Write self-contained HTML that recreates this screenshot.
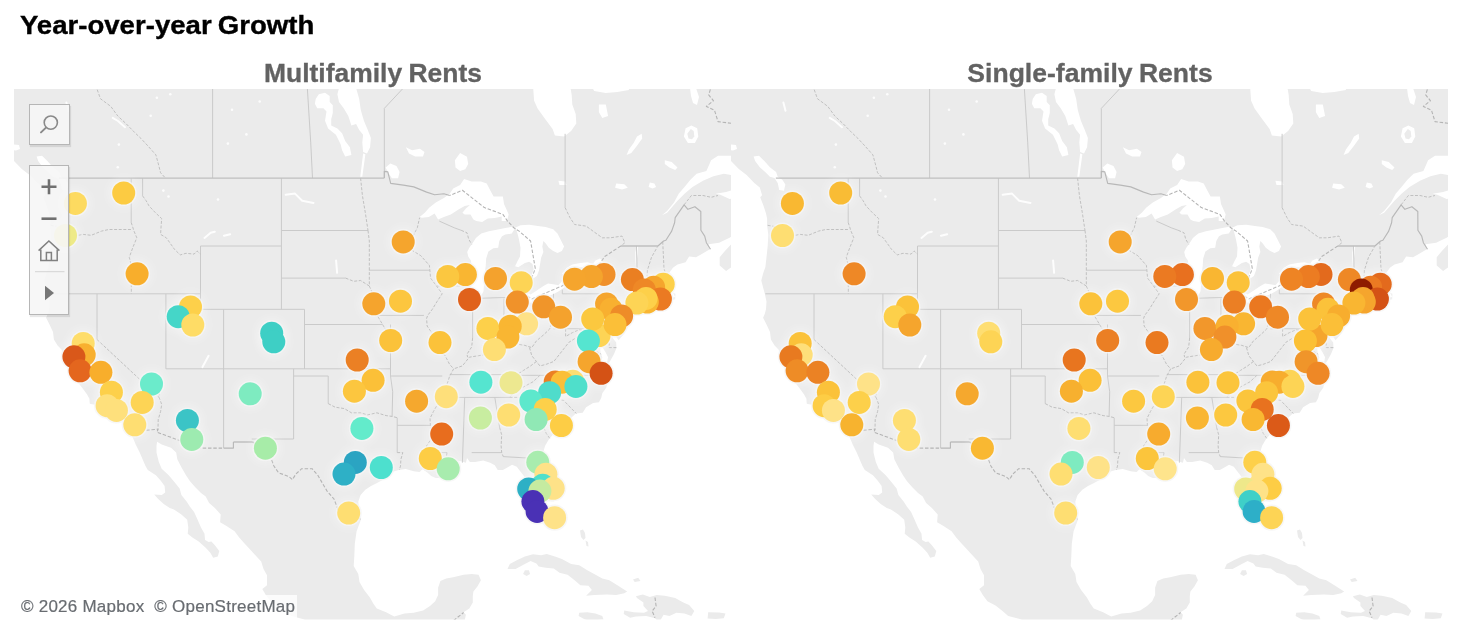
<!DOCTYPE html>
<html lang="en"><head><meta charset="utf-8"><title>Year-over-year Growth</title>
<style>
html,body{margin:0;padding:0;background:#fff;overflow:hidden}
body{width:1459px;height:643px;position:relative;overflow:hidden;font-family:"Liberation Sans",sans-serif}
.title{margin:0;position:absolute;left:20.3px;top:9.6px;font-size:25px;line-height:30px;font-weight:bold;color:#000;white-space:nowrap;word-spacing:-1.5px;-webkit-text-stroke:.35px #000;transform:scaleX(1.104);transform-origin:1px 50%}
.sub{margin:0;position:absolute;top:58.2px;width:400px;text-align:center;font-size:25px;line-height:30px;font-weight:bold;color:#626262;white-space:nowrap;word-spacing:-1px;-webkit-text-stroke:.3px #626262;transform:scaleX(1.058);transform-origin:50% 50%}
#maps{position:absolute;left:0;top:0}
.ctl{position:absolute;box-sizing:border-box;border:1px solid #b6b6b6;background:rgba(246,246,246,.9);box-shadow:1px 2px 1px rgba(0,0,0,.09)}
.attr{position:absolute;left:17px;top:594.7px;width:280px;height:23px;background:rgba(255,255,255,.8);font-size:17px;line-height:22px;color:#686c71;white-space:nowrap;letter-spacing:.24px;-webkit-text-stroke:.2px #686c71}
.attr span{position:absolute;left:4px;top:1px}
</style></head>
<body>
<h1 class="title">Year-over-year Growth</h1>
<h2 class="sub" style="left:173px">Multifamily Rents</h2>
<h2 class="sub" style="left:889.5px;transform:scaleX(1.062)">Single-family Rents</h2>

<svg id="maps" width="1459" height="643" viewBox="0 0 1459 643" role="img" aria-label="Maps of year-over-year rent growth by metro area">
<defs>
<clipPath id="cl"><rect x="14" y="89" width="717" height="530.5"/></clipPath>
<clipPath id="cr"><rect x="731" y="89" width="717" height="530.5"/></clipPath>
<filter id="glow" x="-5%" y="-5%" width="110%" height="110%"><feGaussianBlur stdDeviation="2.5"/></filter>
</defs>
<g clip-path="url(#cl)">
<g transform="translate(0 0)">
<path fill="#ebebeb" d="M-18.7 44.7 L0.0 161.0 L14.0 161.0 L21.8 168.9 L29.6 175.1 L37.3 182.9 L42.8 187.5 L45.1 195.3 L43.2 197.3 L46.6 205.9 L49.0 213.5 L50.1 218.6 L50.1 225.3 L51.3 234.4 L50.7 246.0 L49.5 257.3 L48.4 267.0 L46.1 273.4 L44.3 280.5 L46.1 287.6 L47.8 293.8 L49.5 301.6 L49.0 309.3 L47.8 313.8 L46.1 317.8 L49.5 324.5 L53.0 332.0 L53.9 339.5 L57.6 345.4 L61.7 349.8 L62.8 354.2 L68.0 357.2 L68.0 361.5 L70.4 367.4 L73.8 369.5 L76.1 371.7 L74.4 374.6 L75.0 378.9 L79.6 384.6 L83.1 388.9 L87.1 394.6 L89.4 398.8 L89.8 403.7 L95.8 405.1 L101.6 405.8 L105.6 407.9 L109.1 410.7 L114.3 411.4 L115.5 414.9 L118.9 415.6 L122.4 417.7 L127.0 422.5 L128.8 428.1 L130.3 431.5 L133.4 439.0 L135.7 444.5 L139.7 452.6 L142.6 459.3 L145.5 466.0 L147.8 470.0 L155.9 475.3 L160.6 480.6 L164.6 485.9 L165.2 492.4 L161.7 495.1 L154.2 494.4 L158.2 499.0 L164.0 504.2 L169.8 508.1 L173.9 509.4 L181.4 514.5 L187.2 519.7 L188.3 527.4 L187.7 533.8 L192.4 537.6 L198.7 541.4 L205.7 547.7 L210.3 552.8 L213.2 557.8 L217.8 556.5 L219.3 550.9 L214.9 545.2 L211.4 541.4 L208.6 542.0 L205.1 540.1 L204.5 533.8 L201.0 527.4 L197.6 519.7 L194.1 512.0 L190.0 506.8 L186.6 501.6 L181.4 495.1 L179.6 488.5 L174.4 481.9 L168.7 475.3 L161.7 468.7 L158.8 462.0 L156.5 452.6 L156.5 445.8 L157.1 441.7 L161.7 444.5 L171.0 447.8 L176.2 452.6 L177.3 459.3 L181.4 467.3 L186.0 475.3 L190.0 481.3 L195.3 487.2 L201.0 493.1 L205.7 496.4 L209.1 502.9 L214.9 508.1 L220.7 514.5 L220.1 522.3 L226.5 526.1 L234.6 531.2 L239.2 537.6 L245.0 543.9 L250.8 550.3 L254.2 554.0 L261.2 561.6 L263.5 569.1 L267.0 575.3 L267.0 581.5 L267.0 585.2 L262.3 588.9 L265.8 595.1 L270.4 601.2 L278.5 605.5 L285.5 611.0 L291.2 615.9 L302.8 618.9 L310.9 623.2 L322.5 630.4 L339.8 636.5 L386.1 642.5 L456.6 642.5 L463.6 631.6 L464.1 623.2 L465.9 614.7 L463.6 612.2 L469.3 608.6 L472.8 602.4 L472.8 596.3 L473.4 591.4 L477.4 586.4 L480.9 580.3 L478.6 574.7 L471.7 574.0 L463.6 574.7 L453.2 577.2 L446.2 578.4 L440.4 580.9 L438.1 587.7 L438.1 595.1 L435.2 601.2 L430.0 606.1 L423.1 610.4 L413.8 612.8 L404.6 613.4 L394.2 616.5 L386.1 612.2 L376.8 608.6 L373.4 603.7 L369.9 597.5 L364.1 590.1 L359.5 582.1 L358.3 574.0 L353.7 565.9 L354.3 556.5 L354.8 543.9 L356.6 531.2 L361.2 519.1 L358.9 510.7 L358.3 501.6 L360.6 495.1 L365.3 489.8 L371.0 485.9 L378.0 482.6 L383.8 479.3 L388.4 475.3 L391.9 472.0 L398.8 470.0 L405.7 469.1 L413.8 471.3 L419.6 472.0 L422.5 469.3 L427.7 472.7 L431.2 476.0 L435.8 478.0 L441.6 478.0 L445.1 475.3 L448.5 477.3 L452.0 480.0 L454.9 477.3 L450.8 473.3 L449.7 468.7 L448.5 464.7 L452.0 462.0 L456.6 460.9 L461.2 461.3 L465.9 462.7 L467.0 458.0 L469.9 462.0 L475.1 462.0 L483.2 460.6 L490.2 462.7 L494.8 465.3 L497.7 470.0 L502.9 470.0 L508.7 466.7 L512.1 464.7 L516.8 466.7 L520.2 471.3 L524.3 476.6 L528.3 481.9 L528.3 488.5 L527.2 493.8 L528.9 499.0 L532.4 505.5 L535.8 512.0 L538.7 517.1 L543.4 521.0 L546.8 527.4 L549.1 529.3 L554.3 528.0 L556.7 522.3 L556.1 515.8 L554.3 508.1 L553.8 501.6 L553.8 493.8 L553.2 486.5 L549.7 480.6 L546.8 474.0 L544.5 467.3 L543.4 460.6 L542.8 453.9 L545.1 445.8 L549.1 439.0 L552.6 434.9 L556.1 431.5 L561.3 428.1 L567.1 423.9 L570.5 418.4 L575.7 413.5 L582.7 412.8 L586.1 407.2 L593.1 403.0 L598.9 402.3 L601.2 398.1 L602.3 393.2 L606.4 387.5 L607.5 380.3 L605.8 370.3 L601.8 368.8 L601.2 364.5 L602.3 357.2 L600.6 352.8 L600.0 345.4 L600.6 339.5 L604.7 333.5 L603.5 339.5 L602.3 346.9 L605.8 352.8 L608.1 357.2 L606.4 365.9 L609.9 361.5 L613.9 354.2 L616.4 348.3 L616.2 342.4 L612.7 338.0 L611.0 332.0 L615.1 335.0 L618.5 340.2 L624.3 333.5 L627.8 327.5 L628.9 319.9 L626.6 316.9 L628.4 313.8 L631.8 310.8 L634.7 308.5 L640.5 306.2 L646.3 305.0 L652.1 304.3 L656.7 303.9 L659.0 301.6 L659.6 298.5 L661.9 301.6 L664.8 300.8 L667.7 298.5 L668.8 300.8 L675.2 299.2 L675.4 293.8 L672.9 292.7 L675.2 296.9 L670.0 297.7 L667.1 293.8 L663.6 288.3 L667.7 284.4 L665.9 279.7 L668.8 273.4 L672.9 267.8 L677.5 264.6 L685.6 262.2 L689.1 256.5 L696.0 257.3 L701.8 254.1 L709.9 249.2 L708.7 244.3 L719.1 242.7 L729.6 237.8 L736.5 232.8 L740.0 234.4 L737.7 241.0 L731.9 243.5 L724.9 250.9 L719.7 257.3 L719.7 265.4 L726.1 271.0 L731.9 267.0 L738.8 260.6 L746.9 254.1 L756.2 250.9 L767.7 229.5 L746.9 229.5 L738.8 226.1 L735.3 217.7 L731.9 211.0 L734.2 204.1 L736.5 198.1 L729.6 199.0 L720.3 194.7 L715.7 193.8 L726.1 192.1 L737.7 188.6 L741.1 180.7 L734.2 175.4 L723.8 173.7 L713.4 176.3 L703.0 180.7 L692.5 186.9 L684.5 193.8 L677.5 200.7 L671.7 207.6 L667.1 212.7 L661.9 215.2 L667.1 211.0 L674.0 202.4 L678.7 193.8 L684.5 186.9 L690.2 179.9 L696.6 173.7 L706.4 171.0 L711.1 160.3 L718.0 155.8 L733.0 155.8 L750.4 154.9 L750.4 44.7 L582.7 44.7 L586.1 65.2 L565.3 73.2 L570.0 85.1 L571.7 94.9 L572.3 104.5 L575.7 114.1 L576.3 123.5 L571.1 131.0 L564.2 136.6 L554.9 135.6 L552.6 129.1 L545.7 119.8 L537.6 108.4 L534.1 100.7 L533.0 85.1 L533.0 65.2 L501.7 44.7Z M507.5 569.1 L509.8 564.1 L516.8 560.3 L524.9 556.5 L533.0 554.3 L541.0 555.3 L546.8 554.0 L554.9 556.5 L561.9 559.1 L571.1 564.1 L579.2 565.3 L587.3 570.3 L594.2 574.0 L602.3 578.4 L609.3 580.3 L617.4 585.2 L623.2 588.9 L627.2 591.4 L624.3 593.2 L616.2 595.1 L607.0 594.5 L594.2 595.1 L586.1 595.7 L591.9 590.1 L588.5 585.8 L580.4 585.2 L574.6 580.3 L567.6 574.7 L559.5 572.8 L553.8 568.4 L545.7 567.8 L538.7 566.6 L536.4 563.4 L530.6 560.9 L522.5 565.3 L515.6 569.1Z M524.9 570.3 L528.9 570.3 L530.1 574.0 L526.6 575.9 L523.1 574.0Z M635.9 596.3 L642.8 594.5 L649.8 596.9 L656.7 595.1 L664.8 595.7 L675.2 598.1 L683.3 602.4 L689.1 604.9 L694.3 611.0 L691.4 615.9 L684.5 613.4 L676.4 612.8 L669.4 615.9 L663.6 614.7 L659.0 622.6 L655.0 618.3 L646.3 615.9 L635.9 616.5 L630.1 617.7 L623.7 614.0 L624.3 610.4 L633.6 612.2 L644.0 612.8 L648.0 611.0 L643.4 606.1 L643.4 602.4 L637.0 598.1Z M579.2 612.8 L587.3 612.2 L595.4 613.4 L602.3 615.9 L603.5 619.5 L595.4 620.1 L591.9 621.3 L585.0 619.5 L578.6 615.9Z M708.2 612.2 L719.1 612.5 L725.5 613.4 L723.8 618.3 L715.7 618.9 L707.6 618.5Z M580.0 530.5 L583.0 529.5 L585.0 533.0 L585.5 538.0 L583.5 540.0 L581.0 537.0Z M585.5 540.5 L588.0 542.0 L588.5 546.5 L586.5 546.0Z M633.0 579.6 L638.2 577.8 L640.5 580.9 L634.7 582.1Z M628.6 315.7 L631.8 312.3 L635.9 310.3 L642.8 309.7 L648.6 307.0 L653.7 308.2 L647.4 310.8 L641.7 313.1 L635.9 315.1 L630.1 315.8Z M740.0 219.4 L744.6 211.8 L752.7 221.1 L767.7 221.9 L761.9 229.5 L750.4 226.1 L743.4 222.8Z"/>
<path fill="#fff" d="M419.6 216.9 L424.8 212.7 L429.4 207.6 L435.8 202.4 L443.9 198.1 L449.7 193.8 L453.2 188.6 L460.1 185.1 L464.1 179.0 L471.7 181.6 L480.9 181.6 L486.7 183.4 L490.2 190.3 L493.6 196.4 L502.9 196.4 L504.0 204.1 L506.4 209.3 L508.7 214.4 L506.9 221.1 L501.7 221.1 L501.7 216.6 L494.8 218.1 L487.8 218.6 L482.1 221.9 L476.3 221.1 L473.4 219.4 L470.5 214.4 L464.7 214.4 L462.4 212.7 L465.9 208.4 L469.9 205.0 L464.7 205.9 L458.9 209.3 L450.8 214.4 L443.9 216.9 L438.1 219.4 L434.6 213.5 L428.9 216.9 L421.9 217.7Z M515.6 227.5 L511.8 233.5 L505.3 234.6 L502.0 236.2 L499.3 241.1 L498.2 247.7 L493.3 248.2 L488.4 251.5 L486.2 258.6 L485.7 266.2 L484.6 273.8 L484.0 284.7 L483.5 291.2 L480.2 297.8 L476.4 300.5 L473.1 297.8 L471.5 291.2 L471.0 284.7 L471.0 276.0 L471.5 267.3 L471.0 260.7 L468.2 256.4 L467.2 252.0 L469.3 247.7 L472.6 243.3 L475.9 237.9 L481.3 233.5 L488.9 231.3 L496.6 229.7 L505.3 228.1 L514.0 226.4Z M515.6 227.5 L520.5 225.3 L529.2 224.8 L537.9 225.9 L545.6 227.0 L553.2 229.2 L557.5 233.5 L560.8 240.0 L564.1 246.6 L561.9 250.9 L557.5 253.1 L553.2 250.9 L548.8 247.7 L545.6 243.3 L543.4 241.1 L542.3 246.6 L543.4 252.0 L541.2 257.5 L540.1 264.0 L539.0 270.5 L536.9 276.0 L533.6 278.2 L531.4 276.0 L533.6 269.4 L532.5 264.0 L529.2 261.8 L524.9 262.9 L518.3 267.3 L515.1 266.2 L517.2 261.8 L520.0 256.4 L520.5 247.7 L518.9 239.0 L517.2 232.4Z M519.7 298.5 L523.1 293.8 L528.3 293.0 L530.6 294.6 L536.4 290.7 L543.4 286.0 L548.0 283.6 L554.9 284.4 L558.4 285.2 L561.9 281.3 L568.8 280.2 L572.3 280.0 L570.0 284.4 L564.2 287.6 L558.4 291.5 L552.6 294.6 L544.5 297.7 L539.3 301.6 L531.8 303.1 L526.0 301.6 L521.4 299.2Z M561.9 273.8 L564.2 271.0 L566.5 268.1 L572.3 264.6 L580.4 263.0 L587.3 262.2 L593.1 263.8 L595.4 260.6 L600.0 258.6 L602.3 260.6 L603.5 263.8 L603.5 269.4 L600.0 270.7 L594.2 273.4 L587.3 273.8 L580.4 272.6 L574.6 272.6 L570.0 273.8 L565.3 275.0Z M527.7 283.6 L530.6 285.2 L531.2 288.3 L527.2 289.1 L526.0 286.8Z M339.0 88.1 L356.1 88.1 L359.2 99.0 L360.8 109.9 L363.9 120.8 L367.8 130.1 L370.9 137.9 L370.1 147.2 L367.0 153.4 L363.1 151.9 L362.3 142.5 L363.1 134.8 L359.2 130.1 L356.1 123.9 L351.4 125.4 L348.3 116.1 L343.7 108.3 L339.0 102.1 L337.4 94.3Z M315.7 99.0 L318.8 94.3 L325.0 92.8 L329.7 95.9 L329.7 102.1 L332.8 105.2 L332.8 113.0 L331.2 119.2 L331.2 125.4 L337.4 128.5 L342.1 133.2 L345.2 141.0 L349.9 147.2 L351.4 155.0 L345.2 156.5 L342.1 150.3 L340.5 144.1 L335.9 134.8 L328.1 128.5 L325.0 120.8 L326.5 111.4 L323.4 108.3 L317.2 108.3 L314.9 103.7Z M405.9 147.2 L412.1 150.3 L419.9 148.8 L424.5 151.9 L423.0 156.5 L415.2 156.5 L409.0 153.4Z M363.1 153.4 L365.4 154.2 L362.3 176.8 L360.3 176.8Z M385.6 167.4 L390.3 163.5 L396.5 165.9 L399.6 172.1 L398.1 178.3 L391.9 178.3 L388.8 173.6Z M460.1 153.1 L467.0 156.7 L468.2 163.9 L465.3 169.2 L460.1 171.0 L455.5 167.4 L454.9 160.3Z M641.7 133.8 L642.2 138.4 L637.0 145.8 L631.3 153.1 L626.6 154.9 L628.9 149.4 L633.6 143.0 L637.0 136.6Z M691.4 125.4 L697.2 128.2 L698.3 136.6 L694.9 143.0 L687.9 143.0 L683.9 136.6 L685.6 128.2Z M649.8 182.5 L654.4 183.4 L656.1 186.9 L652.6 188.6 L648.6 186.9Z M616.2 183.4 L624.3 184.2 L627.8 187.7 L622.0 189.5 L615.1 187.7Z M664.8 160.3 L671.7 162.1 L677.5 167.4 L675.2 170.1 L669.4 167.4 L664.8 163.9Z M558.4 180.7 L565.3 181.6 L566.5 185.1 L559.5 185.1Z M636.5 246.0 L638.2 246.0 L637.6 254.1 L636.5 262.2 L635.9 267.0 L635.3 259.0 L635.3 252.5Z M598.9 104.5 L605.8 104.5 L608.1 116.0 L602.3 117.9 L598.9 112.2Z M588.5 81.1 L628.9 81.1 L628.9 90.0 L617.4 91.9 L605.8 92.9 L594.2 91.0Z M36.6 156.4 L42.0 155.7 L47.4 161.1 L52.9 167.3 L59.1 172.0 L60.7 176.7 L65.3 179.8 L68.4 184.4 L66.9 190.7 L62.2 189.9 L60.7 182.9 L57.5 178.0 L52.9 176.7 L48.2 172.0 L42.8 167.3 L38.1 161.1Z M13.0 144.5 L19.0 145.0 L20.0 149.0 L16.0 150.5 L13.0 150.0Z M545.7 501.6 L554.9 501.6 L554.9 512.0 L545.7 512.0Z M690.0 88.0 L696.0 88.0 L699.0 97.0 L697.0 105.0 L693.0 103.0 L691.0 96.0Z"/>
<path fill="#ebebeb" d="M690.8 129.1 L693.7 131.0 L694.3 136.6 L692.0 139.3 L688.5 138.4 L687.3 133.8Z"/>
<path fill="none" stroke="#cacaca" stroke-width="1" d="M212.6 178.1 L212.6 -42.7 M312.5 178.1 L310.7 142.1 L307.4 89.0 L305.1 44.7 M384.3 178.1 L384.3 108.4 L443.9 44.7 M565.1 133.8 L565.1 207.6 M131.2 178.1 L131.2 222.4 M142.6 178.1 L142.6 195.9 M48.4 293.8 L200.5 293.8 M200.5 246.0 L200.5 309.3 M200.5 246.0 L281.4 246.0 M281.4 178.1 L281.4 309.3 M200.5 309.3 L304.5 309.3 M165.9 293.8 L165.9 368.8 M97.0 293.8 L97.0 339.5 M165.9 368.8 L390.5 368.8 M223.6 309.3 L223.6 448.1 M304.5 309.3 L304.5 368.8 M293.6 368.8 L293.6 439.0 M251.7 439.0 L293.6 439.0 M293.6 376.0 L328.2 376.0 M328.2 376.0 L328.2 403.6 M281.4 230.5 L368.0 230.5 M281.4 278.1 L345.6 278.1 M304.5 324.5 L382.6 324.5 M369.3 270.2 L429.8 270.2 M377.2 315.4 L423.9 315.4 M390.5 324.5 L390.5 338.0 L390.5 376.0 M390.5 376.0 L442.2 376.0 M390.5 376.0 L392.7 391.7 L392.1 416.4 M397.2 425.3 L430.4 425.3 M397.2 417.7 L397.2 452.6 M425.4 452.6 L447.0 452.6 M440.4 397.4 L509.6 397.4 M464.7 397.4 L462.4 462.7 M494.8 397.4 L499.6 427.4 M471.7 452.6 L501.7 452.6 M503.3 456.6 L534.1 458.4 M449.7 374.6 L517.0 374.6 M517.0 375.3 L607.0 375.3 M436.5 286.0 L469.3 286.0 M472.6 297.5 L472.6 338.0 M472.6 298.5 L504.0 297.5 L519.7 298.5 M504.0 298.5 L503.8 338.0 M553.5 293.8 L553.5 314.8 M562.3 289.6 L562.3 293.8 L613.3 293.8 M553.5 328.7 L608.2 328.7 M634.8 293.0 L637.4 282.1 L636.5 245.8 M637.4 282.4 L660.2 282.9 M634.8 293.5 L654.4 293.5 M439.3 221.1 L454.3 227.8 L461.2 230.3"/>
<path fill="none" stroke="#c0c0c0" stroke-width="1" stroke-linejoin="round" stroke-dasharray="3 1.6" d="M97.0 339.5 L159.1 397.4 M97.0 85.1 L97.0 89.0 L100.4 98.7 L110.8 106.4 L117.8 116.0 L125.9 123.5 L135.1 132.9 L140.9 138.4 L147.8 145.8 L155.9 154.9 L158.8 165.7 L160.6 172.8 L165.5 178.1 M142.6 195.9 L146.1 200.7 L149.0 205.9 L155.4 212.7 L161.7 218.6 L161.1 226.1 L160.6 234.4 L166.3 237.8 L169.8 242.7 L174.4 249.2 L180.2 254.9 L186.0 253.3 L194.1 254.1 L197.0 250.9 L200.5 254.1 M50.7 225.3 L59.9 227.0 L64.6 234.4 L73.8 236.1 L83.1 234.4 L91.2 235.3 L101.6 231.1 L108.7 229.5 L132.6 229.5 M131.2 222.4 L134.0 231.1 L136.8 237.8 L132.8 247.6 L129.3 257.3 L131.3 265.4 L131.3 293.8 M157.8 383.2 L158.8 388.9 L159.1 397.4 L161.7 404.4 L160.6 411.4 L158.2 419.8 L158.0 429.2 L157.0 432.2 M328.2 403.6 L335.2 407.2 L344.4 408.6 L351.4 412.8 L360.6 412.8 L367.6 414.9 L376.8 412.8 L386.1 415.6 L392.1 416.4 L397.2 417.7 M397.2 452.6 L402.8 452.6 L400.9 459.3 L400.5 466.0 L399.4 470.0 M411.5 250.0 L420.8 255.7 L429.4 265.4 L430.6 278.1 L436.5 286.0 L442.2 293.8 L437.0 301.6 L432.3 309.3 L427.7 315.4 L426.6 318.4 L427.1 326.0 L432.3 333.5 L438.1 340.9 L442.2 342.4 L439.9 349.8 L445.1 355.7 L449.7 364.5 L453.7 368.8 L449.7 376.0 L447.4 383.2 L443.9 390.3 L440.4 397.4 L437.5 404.4 L433.5 411.4 L430.0 418.4 L430.4 425.3 L432.3 432.2 L431.2 439.0 L426.6 445.8 L425.4 452.6 M447.0 452.6 L446.2 458.0 L449.1 463.3 M345.6 278.1 L353.7 281.3 L360.6 280.5 L369.3 286.0 L369.3 270.2 M369.3 286.0 L372.8 293.8 L375.7 304.6 L377.2 315.4 L382.6 324.5 L386.1 330.5 L390.5 338.0 M368.0 230.5 L369.3 241.0 L369.3 270.2 M360.6 178.1 L362.4 195.5 L365.3 212.7 L368.0 230.5 M411.5 250.0 L412.1 237.8 L417.3 227.8 L419.6 217.7 M461.2 230.3 L467.0 232.8 L468.8 239.4 L471.7 244.3 M553.5 314.8 L551.5 323.0 L549.7 329.0 L543.4 335.0 L536.4 340.9 L531.8 347.6 L524.9 345.4 L515.6 343.9 L508.7 338.7 L503.8 338.0 L498.3 342.4 L493.6 349.8 L487.8 354.2 L478.6 355.7 L469.3 357.2 L462.4 365.9 L453.7 368.8 M472.6 338.0 L471.7 346.9 L467.0 354.2 L467.6 357.2 M529.5 347.6 L531.8 355.7 L536.4 361.5 L539.9 365.9 L545.7 364.5 L553.8 361.5 L557.2 357.2 L564.2 348.3 L568.8 342.4 L575.7 338.0 L583.8 333.5 L585.9 335.0 M536.4 361.5 L530.6 365.9 L523.7 370.3 L517.0 374.6 M565.6 328.7 L565.6 336.5 L572.3 332.7 L579.2 329.7 L583.8 330.5 L585.9 335.0 L588.5 338.0 L593.7 340.9 L591.9 348.3 L601.2 354.2 M539.9 375.3 L533.0 381.8 L522.5 387.5 L513.3 393.2 L509.6 397.4 M509.6 397.4 L523.7 397.4 L533.0 394.6 L547.4 395.3 L550.3 400.2 L563.4 400.2 L576.3 413.5 M523.7 397.4 L526.0 404.4 L531.8 411.4 L537.6 419.8 L543.4 426.7 L546.3 433.5 L549.7 438.3 M499.6 427.4 L501.7 434.9 L501.1 445.8 L501.7 452.6 L503.3 456.6 M534.1 458.4 L535.8 461.3 L537.6 455.9 L542.8 456.6 M613.3 293.8 L620.8 303.1 L616.2 310.8 L616.2 316.1 L619.7 321.4 L612.7 327.5 L608.2 328.7 M620.8 303.1 L630.1 309.3 M608.2 328.7 L609.3 347.6 L616.8 347.6 M646.8 282.4 L647.4 270.2 L651.5 257.3 L657.9 246.0 M666.5 276.5 L664.0 268.6 L662.7 241.0 M684.1 204.8 L691.4 195.5 L703.0 195.5 L711.1 197.3 L718.0 195.5 M565.1 207.6 L570.0 217.7 L574.6 224.5 L586.1 226.1 L594.2 232.0 L602.3 237.8 L610.4 237.8 L622.0 236.1 L624.9 242.7 L620.8 246.0"/>
<path fill="none" stroke="#c0c0c0" stroke-width="1.4" d="M58.8 178.1 L384.3 178.1 M620.8 246.0 L657.9 246.0 M453.7 620.5 L453.2 643.7 M233.4 442.0 L252.7 442.0"/>
<path fill="none" stroke="#b8b8b8" stroke-width="1.15" stroke-linejoin="round" d="M384.3 178.1 L384.3 171.4 L387.8 171.9 L390.7 183.4 L403.4 185.1 L413.8 186.9 L426.6 192.1 L434.6 194.7 L443.9 193.8 L449.7 195.5 M657.9 246.0 L663.6 241.0 L665.9 240.2 L671.7 231.1 L674.6 222.8 L675.2 217.7 L684.1 204.8 L687.9 209.3 L694.9 206.7 L700.8 211.5 L700.9 230.3 L704.7 236.1 L706.4 242.7 L710.5 249.2 M223.6 448.1 L233.4 448.1 L233.4 442.0"/>
<path fill="none" stroke="#b4b4b4" stroke-width="1.1" stroke-linejoin="round" stroke-dasharray="3.5 1.8" d="M706.4 65.2 L704.1 75.2 L711.1 87.0 L708.7 94.9 L713.4 100.7 L706.4 106.4 L714.5 110.3 L718.0 121.6 L733.0 123.5 L750.4 123.5 M130.3 431.8 L158.0 429.2 L157.0 432.2 L200.2 448.1 L223.6 448.1 M252.7 442.0 L258.9 447.2 L270.4 456.6 L273.9 466.0 L278.5 472.7 L288.9 476.6 L292.4 479.6 L295.9 474.0 L301.7 468.7 L312.1 468.7 L317.8 475.3 L322.5 483.3 L327.1 491.1 L334.0 499.0 L337.5 508.1 L338.7 513.3 L349.1 517.1 L361.2 519.1 M620.8 246.0 L604.7 256.5 L596.6 268.6 L574.6 268.1 L568.8 271.0 M570.4 273.8 L572.0 280.5 L561.9 286.0 L531.8 298.9 L523.5 293.8 L523.7 289.1 L529.5 285.2 L531.6 278.1 L535.3 268.6 L530.6 241.0 L519.1 231.1 L513.9 227.8 L507.5 221.1 L502.9 214.4 L484.4 207.6 L462.4 190.3 L449.7 195.5 M432.3 620.5 L453.7 620.5 L463.6 612.5 M432.3 620.5 L432.3 627.4 L439.3 641.3 L424.2 641.7 L418.5 650.9 M655.0 597.5 L656.1 606.1 L652.1 611.0 L655.0 617.7"/>
<path fill="none" stroke="#fff" stroke-opacity=".9" stroke-width="2" stroke-linecap="round" stroke-linejoin="round" d="M285.7 194.7 L295.0 193.6 L302.2 200.8 L313.5 202.9 M204.5 237.9 L210.7 232.7 L214.8 231.7 M224.0 235.8 L230.2 234.2 M336.1 260.5 L337.1 272.8 M208.6 355.8 L202.5 367.1 M66.4 102.5 L68.5 110.7 M112.7 117.9 L118.0 121.0 L125.0 127.2"/>
<g fill="#fff" fill-opacity=".85"><circle cx="163.4" cy="190.6" r="1.3"/><circle cx="118.9" cy="144.6" r="1.3"/><circle cx="117.8" cy="167.3" r="1.3"/><circle cx="150.7" cy="115.8" r="1.3"/><circle cx="156.9" cy="97.7" r="1.3"/><circle cx="170.3" cy="94.3" r="1.3"/><circle cx="227.9" cy="143.6" r="1.3"/><circle cx="246.4" cy="134.4" r="1.3"/><circle cx="232.0" cy="109.7" r="1.3"/><circle cx="259.7" cy="101.5" r="1.3"/><circle cx="168.5" cy="196.5" r="1.3"/><circle cx="218.0" cy="199.5" r="1.3"/></g>
<g fill="#fff" fill-opacity=".16" filter="url(#glow)">
<circle cx="123.7" cy="193.0" r="17.50"/>
<circle cx="75.4" cy="203.4" r="17.50"/>
<circle cx="65.5" cy="235.5" r="17.50"/>
<circle cx="137.1" cy="273.8" r="17.50"/>
<circle cx="190.5" cy="306.9" r="17.50"/>
<circle cx="178.2" cy="316.7" r="17.50"/>
<circle cx="192.8" cy="325.0" r="17.50"/>
<circle cx="271.7" cy="333.2" r="17.50"/>
<circle cx="273.8" cy="341.8" r="17.50"/>
<circle cx="250.2" cy="393.8" r="17.50"/>
<circle cx="83.2" cy="343.5" r="17.50"/>
<circle cx="84.2" cy="354.8" r="17.50"/>
<circle cx="73.9" cy="356.8" r="17.50"/>
<circle cx="80.1" cy="370.8" r="17.50"/>
<circle cx="100.9" cy="372.3" r="17.50"/>
<circle cx="111.4" cy="392.2" r="17.50"/>
<circle cx="107.1" cy="405.7" r="17.50"/>
<circle cx="116.4" cy="410.4" r="17.50"/>
<circle cx="151.5" cy="384.0" r="17.50"/>
<circle cx="142.2" cy="402.4" r="17.50"/>
<circle cx="134.8" cy="424.8" r="17.50"/>
<circle cx="187.4" cy="420.5" r="17.50"/>
<circle cx="191.8" cy="439.4" r="17.50"/>
<circle cx="265.4" cy="448.2" r="17.50"/>
<circle cx="403.2" cy="241.9" r="17.50"/>
<circle cx="373.8" cy="303.8" r="17.50"/>
<circle cx="400.5" cy="301.2" r="17.50"/>
<circle cx="390.7" cy="340.5" r="17.50"/>
<circle cx="440.0" cy="342.6" r="17.50"/>
<circle cx="357.2" cy="360.0" r="17.50"/>
<circle cx="373.1" cy="380.3" r="17.50"/>
<circle cx="354.4" cy="391.2" r="17.50"/>
<circle cx="416.6" cy="401.2" r="17.50"/>
<circle cx="446.3" cy="396.7" r="17.50"/>
<circle cx="361.9" cy="428.4" r="17.50"/>
<circle cx="355.3" cy="462.4" r="17.50"/>
<circle cx="344.0" cy="474.1" r="17.50"/>
<circle cx="381.3" cy="467.5" r="17.50"/>
<circle cx="348.7" cy="513.0" r="17.50"/>
<circle cx="441.7" cy="434.1" r="17.50"/>
<circle cx="430.3" cy="458.5" r="17.50"/>
<circle cx="448.2" cy="468.8" r="17.50"/>
<circle cx="465.4" cy="274.6" r="17.50"/>
<circle cx="447.8" cy="276.4" r="17.50"/>
<circle cx="469.5" cy="299.5" r="17.50"/>
<circle cx="495.5" cy="278.5" r="17.50"/>
<circle cx="521.2" cy="282.7" r="17.50"/>
<circle cx="517.3" cy="302.1" r="17.50"/>
<circle cx="543.7" cy="306.8" r="17.50"/>
<circle cx="560.5" cy="317.2" r="17.50"/>
<circle cx="526.6" cy="323.8" r="17.50"/>
<circle cx="487.9" cy="328.4" r="17.50"/>
<circle cx="510.2" cy="326.2" r="17.50"/>
<circle cx="507.9" cy="337.1" r="17.50"/>
<circle cx="494.4" cy="349.6" r="17.50"/>
<circle cx="480.9" cy="382.2" r="17.50"/>
<circle cx="511.0" cy="382.7" r="17.50"/>
<circle cx="480.4" cy="418.0" r="17.50"/>
<circle cx="508.7" cy="415.0" r="17.50"/>
<circle cx="604.0" cy="274.4" r="17.50"/>
<circle cx="591.4" cy="276.6" r="17.50"/>
<circle cx="574.5" cy="279.2" r="17.50"/>
<circle cx="632.4" cy="279.6" r="17.50"/>
<circle cx="663.2" cy="284.2" r="17.50"/>
<circle cx="653.6" cy="287.2" r="17.50"/>
<circle cx="644.3" cy="290.0" r="17.50"/>
<circle cx="660.4" cy="299.0" r="17.50"/>
<circle cx="647.3" cy="302.0" r="17.50"/>
<circle cx="646.0" cy="298.4" r="17.50"/>
<circle cx="636.9" cy="303.0" r="17.50"/>
<circle cx="606.6" cy="304.0" r="17.50"/>
<circle cx="611.0" cy="309.3" r="17.50"/>
<circle cx="621.6" cy="315.9" r="17.50"/>
<circle cx="599.0" cy="335.6" r="17.50"/>
<circle cx="592.7" cy="319.0" r="17.50"/>
<circle cx="615.0" cy="324.6" r="17.50"/>
<circle cx="588.4" cy="341.0" r="17.50"/>
<circle cx="589.1" cy="361.7" r="17.50"/>
<circle cx="601.1" cy="373.3" r="17.50"/>
<circle cx="572.8" cy="381.3" r="17.50"/>
<circle cx="555.2" cy="382.0" r="17.50"/>
<circle cx="562.2" cy="382.2" r="17.50"/>
<circle cx="575.9" cy="386.4" r="17.50"/>
<circle cx="549.6" cy="392.7" r="17.50"/>
<circle cx="530.9" cy="401.0" r="17.50"/>
<circle cx="545.2" cy="409.4" r="17.50"/>
<circle cx="536.1" cy="419.5" r="17.50"/>
<circle cx="561.4" cy="425.5" r="17.50"/>
<circle cx="537.8" cy="462.3" r="17.50"/>
<circle cx="545.9" cy="474.3" r="17.50"/>
<circle cx="542.7" cy="485.2" r="17.50"/>
<circle cx="528.7" cy="489.0" r="17.50"/>
<circle cx="553.2" cy="488.3" r="17.50"/>
<circle cx="539.9" cy="491.1" r="17.50"/>
<circle cx="532.9" cy="501.6" r="17.50"/>
<circle cx="537.1" cy="511.4" r="17.50"/>
<circle cx="554.6" cy="517.7" r="17.50"/>
</g>
<g fill="#f5f5f5" fill-opacity=".8">
<circle cx="123.7" cy="193.0" r="13.10"/>
<circle cx="75.4" cy="203.4" r="13.10"/>
<circle cx="65.5" cy="235.5" r="13.10"/>
<circle cx="137.1" cy="273.8" r="13.10"/>
<circle cx="190.5" cy="306.9" r="13.10"/>
<circle cx="178.2" cy="316.7" r="13.10"/>
<circle cx="192.8" cy="325.0" r="13.10"/>
<circle cx="271.7" cy="333.2" r="13.10"/>
<circle cx="273.8" cy="341.8" r="13.10"/>
<circle cx="250.2" cy="393.8" r="13.10"/>
<circle cx="83.2" cy="343.5" r="13.10"/>
<circle cx="84.2" cy="354.8" r="13.10"/>
<circle cx="73.9" cy="356.8" r="13.10"/>
<circle cx="80.1" cy="370.8" r="13.10"/>
<circle cx="100.9" cy="372.3" r="13.10"/>
<circle cx="111.4" cy="392.2" r="13.10"/>
<circle cx="107.1" cy="405.7" r="13.10"/>
<circle cx="116.4" cy="410.4" r="13.10"/>
<circle cx="151.5" cy="384.0" r="13.10"/>
<circle cx="142.2" cy="402.4" r="13.10"/>
<circle cx="134.8" cy="424.8" r="13.10"/>
<circle cx="187.4" cy="420.5" r="13.10"/>
<circle cx="191.8" cy="439.4" r="13.10"/>
<circle cx="265.4" cy="448.2" r="13.10"/>
<circle cx="403.2" cy="241.9" r="13.10"/>
<circle cx="373.8" cy="303.8" r="13.10"/>
<circle cx="400.5" cy="301.2" r="13.10"/>
<circle cx="390.7" cy="340.5" r="13.10"/>
<circle cx="440.0" cy="342.6" r="13.10"/>
<circle cx="357.2" cy="360.0" r="13.10"/>
<circle cx="373.1" cy="380.3" r="13.10"/>
<circle cx="354.4" cy="391.2" r="13.10"/>
<circle cx="416.6" cy="401.2" r="13.10"/>
<circle cx="446.3" cy="396.7" r="13.10"/>
<circle cx="361.9" cy="428.4" r="13.10"/>
<circle cx="355.3" cy="462.4" r="13.10"/>
<circle cx="344.0" cy="474.1" r="13.10"/>
<circle cx="381.3" cy="467.5" r="13.10"/>
<circle cx="348.7" cy="513.0" r="13.10"/>
<circle cx="441.7" cy="434.1" r="13.10"/>
<circle cx="430.3" cy="458.5" r="13.10"/>
<circle cx="448.2" cy="468.8" r="13.10"/>
<circle cx="465.4" cy="274.6" r="13.10"/>
<circle cx="447.8" cy="276.4" r="13.10"/>
<circle cx="469.5" cy="299.5" r="13.10"/>
<circle cx="495.5" cy="278.5" r="13.10"/>
<circle cx="521.2" cy="282.7" r="13.10"/>
<circle cx="517.3" cy="302.1" r="13.10"/>
<circle cx="543.7" cy="306.8" r="13.10"/>
<circle cx="560.5" cy="317.2" r="13.10"/>
<circle cx="526.6" cy="323.8" r="13.10"/>
<circle cx="487.9" cy="328.4" r="13.10"/>
<circle cx="510.2" cy="326.2" r="13.10"/>
<circle cx="507.9" cy="337.1" r="13.10"/>
<circle cx="494.4" cy="349.6" r="13.10"/>
<circle cx="480.9" cy="382.2" r="13.10"/>
<circle cx="511.0" cy="382.7" r="13.10"/>
<circle cx="480.4" cy="418.0" r="13.10"/>
<circle cx="508.7" cy="415.0" r="13.10"/>
<circle cx="604.0" cy="274.4" r="13.10"/>
<circle cx="591.4" cy="276.6" r="13.10"/>
<circle cx="574.5" cy="279.2" r="13.10"/>
<circle cx="632.4" cy="279.6" r="13.10"/>
<circle cx="663.2" cy="284.2" r="13.10"/>
<circle cx="653.6" cy="287.2" r="13.10"/>
<circle cx="644.3" cy="290.0" r="13.10"/>
<circle cx="660.4" cy="299.0" r="13.10"/>
<circle cx="647.3" cy="302.0" r="13.10"/>
<circle cx="646.0" cy="298.4" r="13.10"/>
<circle cx="636.9" cy="303.0" r="13.10"/>
<circle cx="606.6" cy="304.0" r="13.10"/>
<circle cx="611.0" cy="309.3" r="13.10"/>
<circle cx="621.6" cy="315.9" r="13.10"/>
<circle cx="599.0" cy="335.6" r="13.10"/>
<circle cx="592.7" cy="319.0" r="13.10"/>
<circle cx="615.0" cy="324.6" r="13.10"/>
<circle cx="588.4" cy="341.0" r="13.10"/>
<circle cx="589.1" cy="361.7" r="13.10"/>
<circle cx="601.1" cy="373.3" r="13.10"/>
<circle cx="572.8" cy="381.3" r="13.10"/>
<circle cx="555.2" cy="382.0" r="13.10"/>
<circle cx="562.2" cy="382.2" r="13.10"/>
<circle cx="575.9" cy="386.4" r="13.10"/>
<circle cx="549.6" cy="392.7" r="13.10"/>
<circle cx="530.9" cy="401.0" r="13.10"/>
<circle cx="545.2" cy="409.4" r="13.10"/>
<circle cx="536.1" cy="419.5" r="13.10"/>
<circle cx="561.4" cy="425.5" r="13.10"/>
<circle cx="537.8" cy="462.3" r="13.10"/>
<circle cx="545.9" cy="474.3" r="13.10"/>
<circle cx="542.7" cy="485.2" r="13.10"/>
<circle cx="528.7" cy="489.0" r="13.10"/>
<circle cx="553.2" cy="488.3" r="13.10"/>
<circle cx="539.9" cy="491.1" r="13.10"/>
<circle cx="532.9" cy="501.6" r="13.10"/>
<circle cx="537.1" cy="511.4" r="13.10"/>
<circle cx="554.6" cy="517.7" r="13.10"/>
</g>
<circle cx="123.7" cy="193.0" r="11.50" fill="#FCCB42"/>
<circle cx="75.4" cy="203.4" r="11.50" fill="#FDDA60"/>
<circle cx="65.5" cy="235.5" r="11.50" fill="#EEEA88"/>
<circle cx="137.1" cy="273.8" r="11.50" fill="#F8AE2C"/>
<circle cx="190.5" cy="306.9" r="11.50" fill="#FDD04A"/>
<circle cx="178.2" cy="316.7" r="11.50" fill="#45D6C8"/>
<circle cx="192.8" cy="325.0" r="11.50" fill="#FEDC66"/>
<circle cx="271.7" cy="333.2" r="11.50" fill="#3ECFC5"/>
<circle cx="273.8" cy="341.8" r="11.50" fill="#3ECFC5"/>
<circle cx="250.2" cy="393.8" r="11.50" fill="#7EEBC0"/>
<circle cx="83.2" cy="343.5" r="11.50" fill="#FEDD6A"/>
<circle cx="84.2" cy="354.8" r="11.50" fill="#F8B030"/>
<circle cx="73.9" cy="356.8" r="11.50" fill="#D9581A"/>
<circle cx="80.1" cy="370.8" r="11.50" fill="#E4661E"/>
<circle cx="100.9" cy="372.3" r="11.50" fill="#F8AE2C"/>
<circle cx="111.4" cy="392.2" r="11.50" fill="#FDD04A"/>
<circle cx="107.1" cy="405.7" r="11.50" fill="#FEE07C"/>
<circle cx="116.4" cy="410.4" r="11.50" fill="#FEE07C"/>
<circle cx="151.5" cy="384.0" r="11.50" fill="#6BEBCB"/>
<circle cx="142.2" cy="402.4" r="11.50" fill="#FDD455"/>
<circle cx="134.8" cy="424.8" r="11.50" fill="#FEDE72"/>
<circle cx="187.4" cy="420.5" r="11.50" fill="#3BC4C6"/>
<circle cx="191.8" cy="439.4" r="11.50" fill="#9DEBB0"/>
<circle cx="265.4" cy="448.2" r="11.50" fill="#A7ECA8"/>
<circle cx="403.2" cy="241.9" r="11.50" fill="#F5A52D"/>
<circle cx="373.8" cy="303.8" r="11.50" fill="#F5A42D"/>
<circle cx="400.5" cy="301.2" r="11.50" fill="#FCC63F"/>
<circle cx="390.7" cy="340.5" r="11.50" fill="#FBC23A"/>
<circle cx="440.0" cy="342.6" r="11.50" fill="#FBC23A"/>
<circle cx="357.2" cy="360.0" r="11.50" fill="#EB8024"/>
<circle cx="373.1" cy="380.3" r="11.50" fill="#FBC038"/>
<circle cx="354.4" cy="391.2" r="11.50" fill="#FCC63F"/>
<circle cx="416.6" cy="401.2" r="11.50" fill="#F5A82E"/>
<circle cx="446.3" cy="396.7" r="11.50" fill="#FEDF7A"/>
<circle cx="361.9" cy="428.4" r="11.50" fill="#63EBCB"/>
<circle cx="355.3" cy="462.4" r="11.50" fill="#2BA4C2"/>
<circle cx="344.0" cy="474.1" r="11.50" fill="#2EB0C6"/>
<circle cx="381.3" cy="467.5" r="11.50" fill="#4DE0CE"/>
<circle cx="348.7" cy="513.0" r="11.50" fill="#FEDE72"/>
<circle cx="441.7" cy="434.1" r="11.50" fill="#E86D1E"/>
<circle cx="430.3" cy="458.5" r="11.50" fill="#FDCD45"/>
<circle cx="448.2" cy="468.8" r="11.50" fill="#A8ECAE"/>
<circle cx="465.4" cy="274.6" r="11.50" fill="#F9B632"/>
<circle cx="447.8" cy="276.4" r="11.50" fill="#FBC740"/>
<circle cx="469.5" cy="299.5" r="11.50" fill="#E0621C"/>
<circle cx="495.5" cy="278.5" r="11.50" fill="#F4A22D"/>
<circle cx="521.2" cy="282.7" r="11.50" fill="#FDD455"/>
<circle cx="517.3" cy="302.1" r="11.50" fill="#F0922A"/>
<circle cx="543.7" cy="306.8" r="11.50" fill="#F0952A"/>
<circle cx="560.5" cy="317.2" r="11.50" fill="#F4A22D"/>
<circle cx="526.6" cy="323.8" r="11.50" fill="#FEE186"/>
<circle cx="487.9" cy="328.4" r="11.50" fill="#FDD04A"/>
<circle cx="510.2" cy="326.2" r="11.50" fill="#F9B632"/>
<circle cx="507.9" cy="337.1" r="11.50" fill="#F9B632"/>
<circle cx="494.4" cy="349.6" r="11.50" fill="#FEDE74"/>
<circle cx="480.9" cy="382.2" r="11.50" fill="#55E5D0"/>
<circle cx="511.0" cy="382.7" r="11.50" fill="#EDE890"/>
<circle cx="480.4" cy="418.0" r="11.50" fill="#C8EDA0"/>
<circle cx="508.7" cy="415.0" r="11.50" fill="#FEDE72"/>
<circle cx="604.0" cy="274.4" r="11.50" fill="#F0902A"/>
<circle cx="591.4" cy="276.6" r="11.50" fill="#F4A42D"/>
<circle cx="574.5" cy="279.2" r="11.50" fill="#F5A52D"/>
<circle cx="632.4" cy="279.6" r="11.50" fill="#EA7F22"/>
<circle cx="663.2" cy="284.2" r="11.50" fill="#FDD04A"/>
<circle cx="653.6" cy="287.2" r="11.50" fill="#F5A52D"/>
<circle cx="644.3" cy="290.0" r="11.50" fill="#EE8826"/>
<circle cx="660.4" cy="299.0" r="11.50" fill="#EB7A22"/>
<circle cx="647.3" cy="302.0" r="11.50" fill="#F9B632"/>
<circle cx="646.0" cy="298.4" r="11.50" fill="#FDD04A"/>
<circle cx="636.9" cy="303.0" r="11.50" fill="#FDD455"/>
<circle cx="606.6" cy="304.0" r="11.50" fill="#F5A52D"/>
<circle cx="611.0" cy="309.3" r="11.50" fill="#F8B030"/>
<circle cx="621.6" cy="315.9" r="11.50" fill="#EE8C28"/>
<circle cx="599.0" cy="335.6" r="11.50" fill="#FDD455"/>
<circle cx="592.7" cy="319.0" r="11.50" fill="#FBC83F"/>
<circle cx="615.0" cy="324.6" r="11.50" fill="#FBBF38"/>
<circle cx="588.4" cy="341.0" r="11.50" fill="#55E5D0"/>
<circle cx="589.1" cy="361.7" r="11.50" fill="#F5A52D"/>
<circle cx="601.1" cy="373.3" r="11.50" fill="#D45215"/>
<circle cx="572.8" cy="381.3" r="11.50" fill="#FEDE72"/>
<circle cx="555.2" cy="382.0" r="11.50" fill="#EB8024"/>
<circle cx="562.2" cy="382.2" r="11.50" fill="#FBBF38"/>
<circle cx="575.9" cy="386.4" r="11.50" fill="#4FDFCB"/>
<circle cx="549.6" cy="392.7" r="11.50" fill="#4FDCCB"/>
<circle cx="530.9" cy="401.0" r="11.50" fill="#5DE8CC"/>
<circle cx="545.2" cy="409.4" r="11.50" fill="#FDD04A"/>
<circle cx="536.1" cy="419.5" r="11.50" fill="#90E8B5"/>
<circle cx="561.4" cy="425.5" r="11.50" fill="#FDCD45"/>
<circle cx="537.8" cy="462.3" r="11.50" fill="#A8ECAE"/>
<circle cx="545.9" cy="474.3" r="11.50" fill="#FEE288"/>
<circle cx="542.7" cy="485.2" r="11.50" fill="#4FDFCB"/>
<circle cx="528.7" cy="489.0" r="11.50" fill="#2DB0C5"/>
<circle cx="553.2" cy="488.3" r="11.50" fill="#FEE288"/>
<circle cx="539.9" cy="491.1" r="11.50" fill="#C5EBA0"/>
<circle cx="532.9" cy="501.6" r="11.50" fill="#4A31B5"/>
<circle cx="537.1" cy="511.4" r="11.50" fill="#4A31B5"/>
<circle cx="554.6" cy="517.7" r="11.50" fill="#FEE288"/>
</g></g>
<g clip-path="url(#cr)">
<g transform="translate(717 0)">
<path fill="#ebebeb" d="M-18.7 44.7 L0.0 161.0 L14.0 161.0 L21.8 168.9 L29.6 175.1 L37.3 182.9 L42.8 187.5 L45.1 195.3 L43.2 197.3 L46.6 205.9 L49.0 213.5 L50.1 218.6 L50.1 225.3 L51.3 234.4 L50.7 246.0 L49.5 257.3 L48.4 267.0 L46.1 273.4 L44.3 280.5 L46.1 287.6 L47.8 293.8 L49.5 301.6 L49.0 309.3 L47.8 313.8 L46.1 317.8 L49.5 324.5 L53.0 332.0 L53.9 339.5 L57.6 345.4 L61.7 349.8 L62.8 354.2 L68.0 357.2 L68.0 361.5 L70.4 367.4 L73.8 369.5 L76.1 371.7 L74.4 374.6 L75.0 378.9 L79.6 384.6 L83.1 388.9 L87.1 394.6 L89.4 398.8 L89.8 403.7 L95.8 405.1 L101.6 405.8 L105.6 407.9 L109.1 410.7 L114.3 411.4 L115.5 414.9 L118.9 415.6 L122.4 417.7 L127.0 422.5 L128.8 428.1 L130.3 431.5 L133.4 439.0 L135.7 444.5 L139.7 452.6 L142.6 459.3 L145.5 466.0 L147.8 470.0 L155.9 475.3 L160.6 480.6 L164.6 485.9 L165.2 492.4 L161.7 495.1 L154.2 494.4 L158.2 499.0 L164.0 504.2 L169.8 508.1 L173.9 509.4 L181.4 514.5 L187.2 519.7 L188.3 527.4 L187.7 533.8 L192.4 537.6 L198.7 541.4 L205.7 547.7 L210.3 552.8 L213.2 557.8 L217.8 556.5 L219.3 550.9 L214.9 545.2 L211.4 541.4 L208.6 542.0 L205.1 540.1 L204.5 533.8 L201.0 527.4 L197.6 519.7 L194.1 512.0 L190.0 506.8 L186.6 501.6 L181.4 495.1 L179.6 488.5 L174.4 481.9 L168.7 475.3 L161.7 468.7 L158.8 462.0 L156.5 452.6 L156.5 445.8 L157.1 441.7 L161.7 444.5 L171.0 447.8 L176.2 452.6 L177.3 459.3 L181.4 467.3 L186.0 475.3 L190.0 481.3 L195.3 487.2 L201.0 493.1 L205.7 496.4 L209.1 502.9 L214.9 508.1 L220.7 514.5 L220.1 522.3 L226.5 526.1 L234.6 531.2 L239.2 537.6 L245.0 543.9 L250.8 550.3 L254.2 554.0 L261.2 561.6 L263.5 569.1 L267.0 575.3 L267.0 581.5 L267.0 585.2 L262.3 588.9 L265.8 595.1 L270.4 601.2 L278.5 605.5 L285.5 611.0 L291.2 615.9 L302.8 618.9 L310.9 623.2 L322.5 630.4 L339.8 636.5 L386.1 642.5 L456.6 642.5 L463.6 631.6 L464.1 623.2 L465.9 614.7 L463.6 612.2 L469.3 608.6 L472.8 602.4 L472.8 596.3 L473.4 591.4 L477.4 586.4 L480.9 580.3 L478.6 574.7 L471.7 574.0 L463.6 574.7 L453.2 577.2 L446.2 578.4 L440.4 580.9 L438.1 587.7 L438.1 595.1 L435.2 601.2 L430.0 606.1 L423.1 610.4 L413.8 612.8 L404.6 613.4 L394.2 616.5 L386.1 612.2 L376.8 608.6 L373.4 603.7 L369.9 597.5 L364.1 590.1 L359.5 582.1 L358.3 574.0 L353.7 565.9 L354.3 556.5 L354.8 543.9 L356.6 531.2 L361.2 519.1 L358.9 510.7 L358.3 501.6 L360.6 495.1 L365.3 489.8 L371.0 485.9 L378.0 482.6 L383.8 479.3 L388.4 475.3 L391.9 472.0 L398.8 470.0 L405.7 469.1 L413.8 471.3 L419.6 472.0 L422.5 469.3 L427.7 472.7 L431.2 476.0 L435.8 478.0 L441.6 478.0 L445.1 475.3 L448.5 477.3 L452.0 480.0 L454.9 477.3 L450.8 473.3 L449.7 468.7 L448.5 464.7 L452.0 462.0 L456.6 460.9 L461.2 461.3 L465.9 462.7 L467.0 458.0 L469.9 462.0 L475.1 462.0 L483.2 460.6 L490.2 462.7 L494.8 465.3 L497.7 470.0 L502.9 470.0 L508.7 466.7 L512.1 464.7 L516.8 466.7 L520.2 471.3 L524.3 476.6 L528.3 481.9 L528.3 488.5 L527.2 493.8 L528.9 499.0 L532.4 505.5 L535.8 512.0 L538.7 517.1 L543.4 521.0 L546.8 527.4 L549.1 529.3 L554.3 528.0 L556.7 522.3 L556.1 515.8 L554.3 508.1 L553.8 501.6 L553.8 493.8 L553.2 486.5 L549.7 480.6 L546.8 474.0 L544.5 467.3 L543.4 460.6 L542.8 453.9 L545.1 445.8 L549.1 439.0 L552.6 434.9 L556.1 431.5 L561.3 428.1 L567.1 423.9 L570.5 418.4 L575.7 413.5 L582.7 412.8 L586.1 407.2 L593.1 403.0 L598.9 402.3 L601.2 398.1 L602.3 393.2 L606.4 387.5 L607.5 380.3 L605.8 370.3 L601.8 368.8 L601.2 364.5 L602.3 357.2 L600.6 352.8 L600.0 345.4 L600.6 339.5 L604.7 333.5 L603.5 339.5 L602.3 346.9 L605.8 352.8 L608.1 357.2 L606.4 365.9 L609.9 361.5 L613.9 354.2 L616.4 348.3 L616.2 342.4 L612.7 338.0 L611.0 332.0 L615.1 335.0 L618.5 340.2 L624.3 333.5 L627.8 327.5 L628.9 319.9 L626.6 316.9 L628.4 313.8 L631.8 310.8 L634.7 308.5 L640.5 306.2 L646.3 305.0 L652.1 304.3 L656.7 303.9 L659.0 301.6 L659.6 298.5 L661.9 301.6 L664.8 300.8 L667.7 298.5 L668.8 300.8 L675.2 299.2 L675.4 293.8 L672.9 292.7 L675.2 296.9 L670.0 297.7 L667.1 293.8 L663.6 288.3 L667.7 284.4 L665.9 279.7 L668.8 273.4 L672.9 267.8 L677.5 264.6 L685.6 262.2 L689.1 256.5 L696.0 257.3 L701.8 254.1 L709.9 249.2 L708.7 244.3 L719.1 242.7 L729.6 237.8 L736.5 232.8 L740.0 234.4 L737.7 241.0 L731.9 243.5 L724.9 250.9 L719.7 257.3 L719.7 265.4 L726.1 271.0 L731.9 267.0 L738.8 260.6 L746.9 254.1 L756.2 250.9 L767.7 229.5 L746.9 229.5 L738.8 226.1 L735.3 217.7 L731.9 211.0 L734.2 204.1 L736.5 198.1 L729.6 199.0 L720.3 194.7 L715.7 193.8 L726.1 192.1 L737.7 188.6 L741.1 180.7 L734.2 175.4 L723.8 173.7 L713.4 176.3 L703.0 180.7 L692.5 186.9 L684.5 193.8 L677.5 200.7 L671.7 207.6 L667.1 212.7 L661.9 215.2 L667.1 211.0 L674.0 202.4 L678.7 193.8 L684.5 186.9 L690.2 179.9 L696.6 173.7 L706.4 171.0 L711.1 160.3 L718.0 155.8 L733.0 155.8 L750.4 154.9 L750.4 44.7 L582.7 44.7 L586.1 65.2 L565.3 73.2 L570.0 85.1 L571.7 94.9 L572.3 104.5 L575.7 114.1 L576.3 123.5 L571.1 131.0 L564.2 136.6 L554.9 135.6 L552.6 129.1 L545.7 119.8 L537.6 108.4 L534.1 100.7 L533.0 85.1 L533.0 65.2 L501.7 44.7Z M507.5 569.1 L509.8 564.1 L516.8 560.3 L524.9 556.5 L533.0 554.3 L541.0 555.3 L546.8 554.0 L554.9 556.5 L561.9 559.1 L571.1 564.1 L579.2 565.3 L587.3 570.3 L594.2 574.0 L602.3 578.4 L609.3 580.3 L617.4 585.2 L623.2 588.9 L627.2 591.4 L624.3 593.2 L616.2 595.1 L607.0 594.5 L594.2 595.1 L586.1 595.7 L591.9 590.1 L588.5 585.8 L580.4 585.2 L574.6 580.3 L567.6 574.7 L559.5 572.8 L553.8 568.4 L545.7 567.8 L538.7 566.6 L536.4 563.4 L530.6 560.9 L522.5 565.3 L515.6 569.1Z M524.9 570.3 L528.9 570.3 L530.1 574.0 L526.6 575.9 L523.1 574.0Z M635.9 596.3 L642.8 594.5 L649.8 596.9 L656.7 595.1 L664.8 595.7 L675.2 598.1 L683.3 602.4 L689.1 604.9 L694.3 611.0 L691.4 615.9 L684.5 613.4 L676.4 612.8 L669.4 615.9 L663.6 614.7 L659.0 622.6 L655.0 618.3 L646.3 615.9 L635.9 616.5 L630.1 617.7 L623.7 614.0 L624.3 610.4 L633.6 612.2 L644.0 612.8 L648.0 611.0 L643.4 606.1 L643.4 602.4 L637.0 598.1Z M579.2 612.8 L587.3 612.2 L595.4 613.4 L602.3 615.9 L603.5 619.5 L595.4 620.1 L591.9 621.3 L585.0 619.5 L578.6 615.9Z M708.2 612.2 L719.1 612.5 L725.5 613.4 L723.8 618.3 L715.7 618.9 L707.6 618.5Z M580.0 530.5 L583.0 529.5 L585.0 533.0 L585.5 538.0 L583.5 540.0 L581.0 537.0Z M585.5 540.5 L588.0 542.0 L588.5 546.5 L586.5 546.0Z M633.0 579.6 L638.2 577.8 L640.5 580.9 L634.7 582.1Z M628.6 315.7 L631.8 312.3 L635.9 310.3 L642.8 309.7 L648.6 307.0 L653.7 308.2 L647.4 310.8 L641.7 313.1 L635.9 315.1 L630.1 315.8Z M740.0 219.4 L744.6 211.8 L752.7 221.1 L767.7 221.9 L761.9 229.5 L750.4 226.1 L743.4 222.8Z"/>
<path fill="#fff" d="M419.6 216.9 L424.8 212.7 L429.4 207.6 L435.8 202.4 L443.9 198.1 L449.7 193.8 L453.2 188.6 L460.1 185.1 L464.1 179.0 L471.7 181.6 L480.9 181.6 L486.7 183.4 L490.2 190.3 L493.6 196.4 L502.9 196.4 L504.0 204.1 L506.4 209.3 L508.7 214.4 L506.9 221.1 L501.7 221.1 L501.7 216.6 L494.8 218.1 L487.8 218.6 L482.1 221.9 L476.3 221.1 L473.4 219.4 L470.5 214.4 L464.7 214.4 L462.4 212.7 L465.9 208.4 L469.9 205.0 L464.7 205.9 L458.9 209.3 L450.8 214.4 L443.9 216.9 L438.1 219.4 L434.6 213.5 L428.9 216.9 L421.9 217.7Z M515.6 227.5 L511.8 233.5 L505.3 234.6 L502.0 236.2 L499.3 241.1 L498.2 247.7 L493.3 248.2 L488.4 251.5 L486.2 258.6 L485.7 266.2 L484.6 273.8 L484.0 284.7 L483.5 291.2 L480.2 297.8 L476.4 300.5 L473.1 297.8 L471.5 291.2 L471.0 284.7 L471.0 276.0 L471.5 267.3 L471.0 260.7 L468.2 256.4 L467.2 252.0 L469.3 247.7 L472.6 243.3 L475.9 237.9 L481.3 233.5 L488.9 231.3 L496.6 229.7 L505.3 228.1 L514.0 226.4Z M515.6 227.5 L520.5 225.3 L529.2 224.8 L537.9 225.9 L545.6 227.0 L553.2 229.2 L557.5 233.5 L560.8 240.0 L564.1 246.6 L561.9 250.9 L557.5 253.1 L553.2 250.9 L548.8 247.7 L545.6 243.3 L543.4 241.1 L542.3 246.6 L543.4 252.0 L541.2 257.5 L540.1 264.0 L539.0 270.5 L536.9 276.0 L533.6 278.2 L531.4 276.0 L533.6 269.4 L532.5 264.0 L529.2 261.8 L524.9 262.9 L518.3 267.3 L515.1 266.2 L517.2 261.8 L520.0 256.4 L520.5 247.7 L518.9 239.0 L517.2 232.4Z M519.7 298.5 L523.1 293.8 L528.3 293.0 L530.6 294.6 L536.4 290.7 L543.4 286.0 L548.0 283.6 L554.9 284.4 L558.4 285.2 L561.9 281.3 L568.8 280.2 L572.3 280.0 L570.0 284.4 L564.2 287.6 L558.4 291.5 L552.6 294.6 L544.5 297.7 L539.3 301.6 L531.8 303.1 L526.0 301.6 L521.4 299.2Z M561.9 273.8 L564.2 271.0 L566.5 268.1 L572.3 264.6 L580.4 263.0 L587.3 262.2 L593.1 263.8 L595.4 260.6 L600.0 258.6 L602.3 260.6 L603.5 263.8 L603.5 269.4 L600.0 270.7 L594.2 273.4 L587.3 273.8 L580.4 272.6 L574.6 272.6 L570.0 273.8 L565.3 275.0Z M527.7 283.6 L530.6 285.2 L531.2 288.3 L527.2 289.1 L526.0 286.8Z M339.0 88.1 L356.1 88.1 L359.2 99.0 L360.8 109.9 L363.9 120.8 L367.8 130.1 L370.9 137.9 L370.1 147.2 L367.0 153.4 L363.1 151.9 L362.3 142.5 L363.1 134.8 L359.2 130.1 L356.1 123.9 L351.4 125.4 L348.3 116.1 L343.7 108.3 L339.0 102.1 L337.4 94.3Z M315.7 99.0 L318.8 94.3 L325.0 92.8 L329.7 95.9 L329.7 102.1 L332.8 105.2 L332.8 113.0 L331.2 119.2 L331.2 125.4 L337.4 128.5 L342.1 133.2 L345.2 141.0 L349.9 147.2 L351.4 155.0 L345.2 156.5 L342.1 150.3 L340.5 144.1 L335.9 134.8 L328.1 128.5 L325.0 120.8 L326.5 111.4 L323.4 108.3 L317.2 108.3 L314.9 103.7Z M405.9 147.2 L412.1 150.3 L419.9 148.8 L424.5 151.9 L423.0 156.5 L415.2 156.5 L409.0 153.4Z M363.1 153.4 L365.4 154.2 L362.3 176.8 L360.3 176.8Z M385.6 167.4 L390.3 163.5 L396.5 165.9 L399.6 172.1 L398.1 178.3 L391.9 178.3 L388.8 173.6Z M460.1 153.1 L467.0 156.7 L468.2 163.9 L465.3 169.2 L460.1 171.0 L455.5 167.4 L454.9 160.3Z M641.7 133.8 L642.2 138.4 L637.0 145.8 L631.3 153.1 L626.6 154.9 L628.9 149.4 L633.6 143.0 L637.0 136.6Z M691.4 125.4 L697.2 128.2 L698.3 136.6 L694.9 143.0 L687.9 143.0 L683.9 136.6 L685.6 128.2Z M649.8 182.5 L654.4 183.4 L656.1 186.9 L652.6 188.6 L648.6 186.9Z M616.2 183.4 L624.3 184.2 L627.8 187.7 L622.0 189.5 L615.1 187.7Z M664.8 160.3 L671.7 162.1 L677.5 167.4 L675.2 170.1 L669.4 167.4 L664.8 163.9Z M558.4 180.7 L565.3 181.6 L566.5 185.1 L559.5 185.1Z M636.5 246.0 L638.2 246.0 L637.6 254.1 L636.5 262.2 L635.9 267.0 L635.3 259.0 L635.3 252.5Z M598.9 104.5 L605.8 104.5 L608.1 116.0 L602.3 117.9 L598.9 112.2Z M588.5 81.1 L628.9 81.1 L628.9 90.0 L617.4 91.9 L605.8 92.9 L594.2 91.0Z M36.6 156.4 L42.0 155.7 L47.4 161.1 L52.9 167.3 L59.1 172.0 L60.7 176.7 L65.3 179.8 L68.4 184.4 L66.9 190.7 L62.2 189.9 L60.7 182.9 L57.5 178.0 L52.9 176.7 L48.2 172.0 L42.8 167.3 L38.1 161.1Z M13.0 144.5 L19.0 145.0 L20.0 149.0 L16.0 150.5 L13.0 150.0Z M545.7 501.6 L554.9 501.6 L554.9 512.0 L545.7 512.0Z M690.0 88.0 L696.0 88.0 L699.0 97.0 L697.0 105.0 L693.0 103.0 L691.0 96.0Z"/>
<path fill="#ebebeb" d="M690.8 129.1 L693.7 131.0 L694.3 136.6 L692.0 139.3 L688.5 138.4 L687.3 133.8Z"/>
<path fill="none" stroke="#cacaca" stroke-width="1" d="M212.6 178.1 L212.6 -42.7 M312.5 178.1 L310.7 142.1 L307.4 89.0 L305.1 44.7 M384.3 178.1 L384.3 108.4 L443.9 44.7 M565.1 133.8 L565.1 207.6 M131.2 178.1 L131.2 222.4 M142.6 178.1 L142.6 195.9 M48.4 293.8 L200.5 293.8 M200.5 246.0 L200.5 309.3 M200.5 246.0 L281.4 246.0 M281.4 178.1 L281.4 309.3 M200.5 309.3 L304.5 309.3 M165.9 293.8 L165.9 368.8 M97.0 293.8 L97.0 339.5 M165.9 368.8 L390.5 368.8 M223.6 309.3 L223.6 448.1 M304.5 309.3 L304.5 368.8 M293.6 368.8 L293.6 439.0 M251.7 439.0 L293.6 439.0 M293.6 376.0 L328.2 376.0 M328.2 376.0 L328.2 403.6 M281.4 230.5 L368.0 230.5 M281.4 278.1 L345.6 278.1 M304.5 324.5 L382.6 324.5 M369.3 270.2 L429.8 270.2 M377.2 315.4 L423.9 315.4 M390.5 324.5 L390.5 338.0 L390.5 376.0 M390.5 376.0 L442.2 376.0 M390.5 376.0 L392.7 391.7 L392.1 416.4 M397.2 425.3 L430.4 425.3 M397.2 417.7 L397.2 452.6 M425.4 452.6 L447.0 452.6 M440.4 397.4 L509.6 397.4 M464.7 397.4 L462.4 462.7 M494.8 397.4 L499.6 427.4 M471.7 452.6 L501.7 452.6 M503.3 456.6 L534.1 458.4 M449.7 374.6 L517.0 374.6 M517.0 375.3 L607.0 375.3 M436.5 286.0 L469.3 286.0 M472.6 297.5 L472.6 338.0 M472.6 298.5 L504.0 297.5 L519.7 298.5 M504.0 298.5 L503.8 338.0 M553.5 293.8 L553.5 314.8 M562.3 289.6 L562.3 293.8 L613.3 293.8 M553.5 328.7 L608.2 328.7 M634.8 293.0 L637.4 282.1 L636.5 245.8 M637.4 282.4 L660.2 282.9 M634.8 293.5 L654.4 293.5 M439.3 221.1 L454.3 227.8 L461.2 230.3"/>
<path fill="none" stroke="#c0c0c0" stroke-width="1" stroke-linejoin="round" stroke-dasharray="3 1.6" d="M97.0 339.5 L159.1 397.4 M97.0 85.1 L97.0 89.0 L100.4 98.7 L110.8 106.4 L117.8 116.0 L125.9 123.5 L135.1 132.9 L140.9 138.4 L147.8 145.8 L155.9 154.9 L158.8 165.7 L160.6 172.8 L165.5 178.1 M142.6 195.9 L146.1 200.7 L149.0 205.9 L155.4 212.7 L161.7 218.6 L161.1 226.1 L160.6 234.4 L166.3 237.8 L169.8 242.7 L174.4 249.2 L180.2 254.9 L186.0 253.3 L194.1 254.1 L197.0 250.9 L200.5 254.1 M50.7 225.3 L59.9 227.0 L64.6 234.4 L73.8 236.1 L83.1 234.4 L91.2 235.3 L101.6 231.1 L108.7 229.5 L132.6 229.5 M131.2 222.4 L134.0 231.1 L136.8 237.8 L132.8 247.6 L129.3 257.3 L131.3 265.4 L131.3 293.8 M157.8 383.2 L158.8 388.9 L159.1 397.4 L161.7 404.4 L160.6 411.4 L158.2 419.8 L158.0 429.2 L157.0 432.2 M328.2 403.6 L335.2 407.2 L344.4 408.6 L351.4 412.8 L360.6 412.8 L367.6 414.9 L376.8 412.8 L386.1 415.6 L392.1 416.4 L397.2 417.7 M397.2 452.6 L402.8 452.6 L400.9 459.3 L400.5 466.0 L399.4 470.0 M411.5 250.0 L420.8 255.7 L429.4 265.4 L430.6 278.1 L436.5 286.0 L442.2 293.8 L437.0 301.6 L432.3 309.3 L427.7 315.4 L426.6 318.4 L427.1 326.0 L432.3 333.5 L438.1 340.9 L442.2 342.4 L439.9 349.8 L445.1 355.7 L449.7 364.5 L453.7 368.8 L449.7 376.0 L447.4 383.2 L443.9 390.3 L440.4 397.4 L437.5 404.4 L433.5 411.4 L430.0 418.4 L430.4 425.3 L432.3 432.2 L431.2 439.0 L426.6 445.8 L425.4 452.6 M447.0 452.6 L446.2 458.0 L449.1 463.3 M345.6 278.1 L353.7 281.3 L360.6 280.5 L369.3 286.0 L369.3 270.2 M369.3 286.0 L372.8 293.8 L375.7 304.6 L377.2 315.4 L382.6 324.5 L386.1 330.5 L390.5 338.0 M368.0 230.5 L369.3 241.0 L369.3 270.2 M360.6 178.1 L362.4 195.5 L365.3 212.7 L368.0 230.5 M411.5 250.0 L412.1 237.8 L417.3 227.8 L419.6 217.7 M461.2 230.3 L467.0 232.8 L468.8 239.4 L471.7 244.3 M553.5 314.8 L551.5 323.0 L549.7 329.0 L543.4 335.0 L536.4 340.9 L531.8 347.6 L524.9 345.4 L515.6 343.9 L508.7 338.7 L503.8 338.0 L498.3 342.4 L493.6 349.8 L487.8 354.2 L478.6 355.7 L469.3 357.2 L462.4 365.9 L453.7 368.8 M472.6 338.0 L471.7 346.9 L467.0 354.2 L467.6 357.2 M529.5 347.6 L531.8 355.7 L536.4 361.5 L539.9 365.9 L545.7 364.5 L553.8 361.5 L557.2 357.2 L564.2 348.3 L568.8 342.4 L575.7 338.0 L583.8 333.5 L585.9 335.0 M536.4 361.5 L530.6 365.9 L523.7 370.3 L517.0 374.6 M565.6 328.7 L565.6 336.5 L572.3 332.7 L579.2 329.7 L583.8 330.5 L585.9 335.0 L588.5 338.0 L593.7 340.9 L591.9 348.3 L601.2 354.2 M539.9 375.3 L533.0 381.8 L522.5 387.5 L513.3 393.2 L509.6 397.4 M509.6 397.4 L523.7 397.4 L533.0 394.6 L547.4 395.3 L550.3 400.2 L563.4 400.2 L576.3 413.5 M523.7 397.4 L526.0 404.4 L531.8 411.4 L537.6 419.8 L543.4 426.7 L546.3 433.5 L549.7 438.3 M499.6 427.4 L501.7 434.9 L501.1 445.8 L501.7 452.6 L503.3 456.6 M534.1 458.4 L535.8 461.3 L537.6 455.9 L542.8 456.6 M613.3 293.8 L620.8 303.1 L616.2 310.8 L616.2 316.1 L619.7 321.4 L612.7 327.5 L608.2 328.7 M620.8 303.1 L630.1 309.3 M608.2 328.7 L609.3 347.6 L616.8 347.6 M646.8 282.4 L647.4 270.2 L651.5 257.3 L657.9 246.0 M666.5 276.5 L664.0 268.6 L662.7 241.0 M684.1 204.8 L691.4 195.5 L703.0 195.5 L711.1 197.3 L718.0 195.5 M565.1 207.6 L570.0 217.7 L574.6 224.5 L586.1 226.1 L594.2 232.0 L602.3 237.8 L610.4 237.8 L622.0 236.1 L624.9 242.7 L620.8 246.0"/>
<path fill="none" stroke="#c0c0c0" stroke-width="1.4" d="M58.8 178.1 L384.3 178.1 M620.8 246.0 L657.9 246.0 M453.7 620.5 L453.2 643.7 M233.4 442.0 L252.7 442.0"/>
<path fill="none" stroke="#b8b8b8" stroke-width="1.15" stroke-linejoin="round" d="M384.3 178.1 L384.3 171.4 L387.8 171.9 L390.7 183.4 L403.4 185.1 L413.8 186.9 L426.6 192.1 L434.6 194.7 L443.9 193.8 L449.7 195.5 M657.9 246.0 L663.6 241.0 L665.9 240.2 L671.7 231.1 L674.6 222.8 L675.2 217.7 L684.1 204.8 L687.9 209.3 L694.9 206.7 L700.8 211.5 L700.9 230.3 L704.7 236.1 L706.4 242.7 L710.5 249.2 M223.6 448.1 L233.4 448.1 L233.4 442.0"/>
<path fill="none" stroke="#b4b4b4" stroke-width="1.1" stroke-linejoin="round" stroke-dasharray="3.5 1.8" d="M706.4 65.2 L704.1 75.2 L711.1 87.0 L708.7 94.9 L713.4 100.7 L706.4 106.4 L714.5 110.3 L718.0 121.6 L733.0 123.5 L750.4 123.5 M130.3 431.8 L158.0 429.2 L157.0 432.2 L200.2 448.1 L223.6 448.1 M252.7 442.0 L258.9 447.2 L270.4 456.6 L273.9 466.0 L278.5 472.7 L288.9 476.6 L292.4 479.6 L295.9 474.0 L301.7 468.7 L312.1 468.7 L317.8 475.3 L322.5 483.3 L327.1 491.1 L334.0 499.0 L337.5 508.1 L338.7 513.3 L349.1 517.1 L361.2 519.1 M620.8 246.0 L604.7 256.5 L596.6 268.6 L574.6 268.1 L568.8 271.0 M570.4 273.8 L572.0 280.5 L561.9 286.0 L531.8 298.9 L523.5 293.8 L523.7 289.1 L529.5 285.2 L531.6 278.1 L535.3 268.6 L530.6 241.0 L519.1 231.1 L513.9 227.8 L507.5 221.1 L502.9 214.4 L484.4 207.6 L462.4 190.3 L449.7 195.5 M432.3 620.5 L453.7 620.5 L463.6 612.5 M432.3 620.5 L432.3 627.4 L439.3 641.3 L424.2 641.7 L418.5 650.9 M655.0 597.5 L656.1 606.1 L652.1 611.0 L655.0 617.7"/>
<path fill="none" stroke="#fff" stroke-opacity=".9" stroke-width="2" stroke-linecap="round" stroke-linejoin="round" d="M285.7 194.7 L295.0 193.6 L302.2 200.8 L313.5 202.9 M204.5 237.9 L210.7 232.7 L214.8 231.7 M224.0 235.8 L230.2 234.2 M336.1 260.5 L337.1 272.8 M208.6 355.8 L202.5 367.1 M66.4 102.5 L68.5 110.7 M112.7 117.9 L118.0 121.0 L125.0 127.2"/>
<g fill="#fff" fill-opacity=".85"><circle cx="163.4" cy="190.6" r="1.3"/><circle cx="118.9" cy="144.6" r="1.3"/><circle cx="117.8" cy="167.3" r="1.3"/><circle cx="150.7" cy="115.8" r="1.3"/><circle cx="156.9" cy="97.7" r="1.3"/><circle cx="170.3" cy="94.3" r="1.3"/><circle cx="227.9" cy="143.6" r="1.3"/><circle cx="246.4" cy="134.4" r="1.3"/><circle cx="232.0" cy="109.7" r="1.3"/><circle cx="259.7" cy="101.5" r="1.3"/><circle cx="168.5" cy="196.5" r="1.3"/><circle cx="218.0" cy="199.5" r="1.3"/></g>
<g fill="#fff" fill-opacity=".16" filter="url(#glow)">
<circle cx="123.7" cy="193.0" r="17.50"/>
<circle cx="75.4" cy="203.4" r="17.50"/>
<circle cx="65.5" cy="235.5" r="17.50"/>
<circle cx="137.1" cy="273.8" r="17.50"/>
<circle cx="190.5" cy="306.9" r="17.50"/>
<circle cx="178.2" cy="316.7" r="17.50"/>
<circle cx="192.8" cy="325.0" r="17.50"/>
<circle cx="271.7" cy="333.2" r="17.50"/>
<circle cx="273.8" cy="341.8" r="17.50"/>
<circle cx="250.2" cy="393.8" r="17.50"/>
<circle cx="83.2" cy="343.5" r="17.50"/>
<circle cx="84.2" cy="354.8" r="17.50"/>
<circle cx="73.9" cy="356.8" r="17.50"/>
<circle cx="80.1" cy="370.8" r="17.50"/>
<circle cx="100.9" cy="372.3" r="17.50"/>
<circle cx="111.4" cy="392.2" r="17.50"/>
<circle cx="107.1" cy="405.7" r="17.50"/>
<circle cx="116.4" cy="410.4" r="17.50"/>
<circle cx="151.5" cy="384.0" r="17.50"/>
<circle cx="142.2" cy="402.4" r="17.50"/>
<circle cx="134.8" cy="424.8" r="17.50"/>
<circle cx="187.4" cy="420.5" r="17.50"/>
<circle cx="191.8" cy="439.4" r="17.50"/>
<circle cx="265.4" cy="448.2" r="17.50"/>
<circle cx="403.2" cy="241.9" r="17.50"/>
<circle cx="373.8" cy="303.8" r="17.50"/>
<circle cx="400.5" cy="301.2" r="17.50"/>
<circle cx="390.7" cy="340.5" r="17.50"/>
<circle cx="440.0" cy="342.6" r="17.50"/>
<circle cx="357.2" cy="360.0" r="17.50"/>
<circle cx="373.1" cy="380.3" r="17.50"/>
<circle cx="354.4" cy="391.2" r="17.50"/>
<circle cx="416.6" cy="401.2" r="17.50"/>
<circle cx="446.3" cy="396.7" r="17.50"/>
<circle cx="361.9" cy="428.4" r="17.50"/>
<circle cx="355.3" cy="462.4" r="17.50"/>
<circle cx="344.0" cy="474.1" r="17.50"/>
<circle cx="381.3" cy="467.5" r="17.50"/>
<circle cx="348.7" cy="513.0" r="17.50"/>
<circle cx="441.7" cy="434.1" r="17.50"/>
<circle cx="430.3" cy="458.5" r="17.50"/>
<circle cx="448.2" cy="468.8" r="17.50"/>
<circle cx="465.4" cy="274.6" r="17.50"/>
<circle cx="447.8" cy="276.4" r="17.50"/>
<circle cx="469.5" cy="299.5" r="17.50"/>
<circle cx="495.5" cy="278.5" r="17.50"/>
<circle cx="521.2" cy="282.7" r="17.50"/>
<circle cx="517.3" cy="302.1" r="17.50"/>
<circle cx="543.7" cy="306.8" r="17.50"/>
<circle cx="560.5" cy="317.2" r="17.50"/>
<circle cx="526.6" cy="323.8" r="17.50"/>
<circle cx="487.9" cy="328.4" r="17.50"/>
<circle cx="510.2" cy="326.2" r="17.50"/>
<circle cx="507.9" cy="337.1" r="17.50"/>
<circle cx="494.4" cy="349.6" r="17.50"/>
<circle cx="480.9" cy="382.2" r="17.50"/>
<circle cx="511.0" cy="382.7" r="17.50"/>
<circle cx="480.4" cy="418.0" r="17.50"/>
<circle cx="508.7" cy="415.0" r="17.50"/>
<circle cx="604.0" cy="274.4" r="17.50"/>
<circle cx="591.4" cy="276.6" r="17.50"/>
<circle cx="574.5" cy="279.2" r="17.50"/>
<circle cx="632.4" cy="279.6" r="17.50"/>
<circle cx="663.2" cy="284.2" r="17.50"/>
<circle cx="653.6" cy="287.2" r="17.50"/>
<circle cx="644.3" cy="290.0" r="17.50"/>
<circle cx="660.4" cy="299.0" r="17.50"/>
<circle cx="647.3" cy="302.0" r="17.50"/>
<circle cx="646.0" cy="298.4" r="17.50"/>
<circle cx="636.9" cy="303.0" r="17.50"/>
<circle cx="606.6" cy="304.0" r="17.50"/>
<circle cx="611.0" cy="309.3" r="17.50"/>
<circle cx="621.6" cy="315.9" r="17.50"/>
<circle cx="599.0" cy="335.6" r="17.50"/>
<circle cx="592.7" cy="319.0" r="17.50"/>
<circle cx="615.0" cy="324.6" r="17.50"/>
<circle cx="588.4" cy="341.0" r="17.50"/>
<circle cx="589.1" cy="361.7" r="17.50"/>
<circle cx="601.1" cy="373.3" r="17.50"/>
<circle cx="572.8" cy="381.3" r="17.50"/>
<circle cx="555.2" cy="382.0" r="17.50"/>
<circle cx="562.2" cy="382.2" r="17.50"/>
<circle cx="575.9" cy="386.4" r="17.50"/>
<circle cx="549.6" cy="392.7" r="17.50"/>
<circle cx="530.9" cy="401.0" r="17.50"/>
<circle cx="545.2" cy="409.4" r="17.50"/>
<circle cx="536.1" cy="419.5" r="17.50"/>
<circle cx="561.4" cy="425.5" r="17.50"/>
<circle cx="537.8" cy="462.3" r="17.50"/>
<circle cx="545.9" cy="474.3" r="17.50"/>
<circle cx="542.7" cy="485.2" r="17.50"/>
<circle cx="528.7" cy="489.0" r="17.50"/>
<circle cx="553.2" cy="488.3" r="17.50"/>
<circle cx="539.9" cy="491.1" r="17.50"/>
<circle cx="532.9" cy="501.6" r="17.50"/>
<circle cx="537.1" cy="511.4" r="17.50"/>
<circle cx="554.6" cy="517.7" r="17.50"/>
</g>
<g fill="#f5f5f5" fill-opacity=".8">
<circle cx="123.7" cy="193.0" r="13.10"/>
<circle cx="75.4" cy="203.4" r="13.10"/>
<circle cx="65.5" cy="235.5" r="13.10"/>
<circle cx="137.1" cy="273.8" r="13.10"/>
<circle cx="190.5" cy="306.9" r="13.10"/>
<circle cx="178.2" cy="316.7" r="13.10"/>
<circle cx="192.8" cy="325.0" r="13.10"/>
<circle cx="271.7" cy="333.2" r="13.10"/>
<circle cx="273.8" cy="341.8" r="13.10"/>
<circle cx="250.2" cy="393.8" r="13.10"/>
<circle cx="83.2" cy="343.5" r="13.10"/>
<circle cx="84.2" cy="354.8" r="13.10"/>
<circle cx="73.9" cy="356.8" r="13.10"/>
<circle cx="80.1" cy="370.8" r="13.10"/>
<circle cx="100.9" cy="372.3" r="13.10"/>
<circle cx="111.4" cy="392.2" r="13.10"/>
<circle cx="107.1" cy="405.7" r="13.10"/>
<circle cx="116.4" cy="410.4" r="13.10"/>
<circle cx="151.5" cy="384.0" r="13.10"/>
<circle cx="142.2" cy="402.4" r="13.10"/>
<circle cx="134.8" cy="424.8" r="13.10"/>
<circle cx="187.4" cy="420.5" r="13.10"/>
<circle cx="191.8" cy="439.4" r="13.10"/>
<circle cx="265.4" cy="448.2" r="13.10"/>
<circle cx="403.2" cy="241.9" r="13.10"/>
<circle cx="373.8" cy="303.8" r="13.10"/>
<circle cx="400.5" cy="301.2" r="13.10"/>
<circle cx="390.7" cy="340.5" r="13.10"/>
<circle cx="440.0" cy="342.6" r="13.10"/>
<circle cx="357.2" cy="360.0" r="13.10"/>
<circle cx="373.1" cy="380.3" r="13.10"/>
<circle cx="354.4" cy="391.2" r="13.10"/>
<circle cx="416.6" cy="401.2" r="13.10"/>
<circle cx="446.3" cy="396.7" r="13.10"/>
<circle cx="361.9" cy="428.4" r="13.10"/>
<circle cx="355.3" cy="462.4" r="13.10"/>
<circle cx="344.0" cy="474.1" r="13.10"/>
<circle cx="381.3" cy="467.5" r="13.10"/>
<circle cx="348.7" cy="513.0" r="13.10"/>
<circle cx="441.7" cy="434.1" r="13.10"/>
<circle cx="430.3" cy="458.5" r="13.10"/>
<circle cx="448.2" cy="468.8" r="13.10"/>
<circle cx="465.4" cy="274.6" r="13.10"/>
<circle cx="447.8" cy="276.4" r="13.10"/>
<circle cx="469.5" cy="299.5" r="13.10"/>
<circle cx="495.5" cy="278.5" r="13.10"/>
<circle cx="521.2" cy="282.7" r="13.10"/>
<circle cx="517.3" cy="302.1" r="13.10"/>
<circle cx="543.7" cy="306.8" r="13.10"/>
<circle cx="560.5" cy="317.2" r="13.10"/>
<circle cx="526.6" cy="323.8" r="13.10"/>
<circle cx="487.9" cy="328.4" r="13.10"/>
<circle cx="510.2" cy="326.2" r="13.10"/>
<circle cx="507.9" cy="337.1" r="13.10"/>
<circle cx="494.4" cy="349.6" r="13.10"/>
<circle cx="480.9" cy="382.2" r="13.10"/>
<circle cx="511.0" cy="382.7" r="13.10"/>
<circle cx="480.4" cy="418.0" r="13.10"/>
<circle cx="508.7" cy="415.0" r="13.10"/>
<circle cx="604.0" cy="274.4" r="13.10"/>
<circle cx="591.4" cy="276.6" r="13.10"/>
<circle cx="574.5" cy="279.2" r="13.10"/>
<circle cx="632.4" cy="279.6" r="13.10"/>
<circle cx="663.2" cy="284.2" r="13.10"/>
<circle cx="653.6" cy="287.2" r="13.10"/>
<circle cx="644.3" cy="290.0" r="13.10"/>
<circle cx="660.4" cy="299.0" r="13.10"/>
<circle cx="647.3" cy="302.0" r="13.10"/>
<circle cx="646.0" cy="298.4" r="13.10"/>
<circle cx="636.9" cy="303.0" r="13.10"/>
<circle cx="606.6" cy="304.0" r="13.10"/>
<circle cx="611.0" cy="309.3" r="13.10"/>
<circle cx="621.6" cy="315.9" r="13.10"/>
<circle cx="599.0" cy="335.6" r="13.10"/>
<circle cx="592.7" cy="319.0" r="13.10"/>
<circle cx="615.0" cy="324.6" r="13.10"/>
<circle cx="588.4" cy="341.0" r="13.10"/>
<circle cx="589.1" cy="361.7" r="13.10"/>
<circle cx="601.1" cy="373.3" r="13.10"/>
<circle cx="572.8" cy="381.3" r="13.10"/>
<circle cx="555.2" cy="382.0" r="13.10"/>
<circle cx="562.2" cy="382.2" r="13.10"/>
<circle cx="575.9" cy="386.4" r="13.10"/>
<circle cx="549.6" cy="392.7" r="13.10"/>
<circle cx="530.9" cy="401.0" r="13.10"/>
<circle cx="545.2" cy="409.4" r="13.10"/>
<circle cx="536.1" cy="419.5" r="13.10"/>
<circle cx="561.4" cy="425.5" r="13.10"/>
<circle cx="537.8" cy="462.3" r="13.10"/>
<circle cx="545.9" cy="474.3" r="13.10"/>
<circle cx="542.7" cy="485.2" r="13.10"/>
<circle cx="528.7" cy="489.0" r="13.10"/>
<circle cx="553.2" cy="488.3" r="13.10"/>
<circle cx="539.9" cy="491.1" r="13.10"/>
<circle cx="532.9" cy="501.6" r="13.10"/>
<circle cx="537.1" cy="511.4" r="13.10"/>
<circle cx="554.6" cy="517.7" r="13.10"/>
</g>
<circle cx="123.7" cy="193.0" r="11.50" fill="#F9BC35"/>
<circle cx="75.4" cy="203.4" r="11.50" fill="#F9B832"/>
<circle cx="65.5" cy="235.5" r="11.50" fill="#FEDE72"/>
<circle cx="137.1" cy="273.8" r="11.50" fill="#EE8826"/>
<circle cx="190.5" cy="306.9" r="11.50" fill="#FBC23A"/>
<circle cx="178.2" cy="316.7" r="11.50" fill="#FDD04A"/>
<circle cx="192.8" cy="325.0" r="11.50" fill="#F5A52D"/>
<circle cx="271.7" cy="333.2" r="11.50" fill="#FEDE72"/>
<circle cx="273.8" cy="341.8" r="11.50" fill="#FDD455"/>
<circle cx="250.2" cy="393.8" r="11.50" fill="#F5A82E"/>
<circle cx="83.2" cy="343.5" r="11.50" fill="#FBC23A"/>
<circle cx="84.2" cy="354.8" r="11.50" fill="#FEDF7A"/>
<circle cx="73.9" cy="356.8" r="11.50" fill="#E87A20"/>
<circle cx="80.1" cy="370.8" r="11.50" fill="#EE8C26"/>
<circle cx="100.9" cy="372.3" r="11.50" fill="#EB8224"/>
<circle cx="111.4" cy="392.2" r="11.50" fill="#FBC23A"/>
<circle cx="107.1" cy="405.7" r="11.50" fill="#FDCD45"/>
<circle cx="116.4" cy="410.4" r="11.50" fill="#FEE288"/>
<circle cx="151.5" cy="384.0" r="11.50" fill="#FEE288"/>
<circle cx="142.2" cy="402.4" r="11.50" fill="#FDD04A"/>
<circle cx="134.8" cy="424.8" r="11.50" fill="#F7B32F"/>
<circle cx="187.4" cy="420.5" r="11.50" fill="#FEDE72"/>
<circle cx="191.8" cy="439.4" r="11.50" fill="#FEDE72"/>
<circle cx="265.4" cy="448.2" r="11.50" fill="#F9B832"/>
<circle cx="403.2" cy="241.9" r="11.50" fill="#F5A52D"/>
<circle cx="373.8" cy="303.8" r="11.50" fill="#FBC23A"/>
<circle cx="400.5" cy="301.2" r="11.50" fill="#FCC840"/>
<circle cx="390.7" cy="340.5" r="11.50" fill="#EB7F24"/>
<circle cx="440.0" cy="342.6" r="11.50" fill="#EA7A20"/>
<circle cx="357.2" cy="360.0" r="11.50" fill="#E8751F"/>
<circle cx="373.1" cy="380.3" r="11.50" fill="#FBC038"/>
<circle cx="354.4" cy="391.2" r="11.50" fill="#F7B02F"/>
<circle cx="416.6" cy="401.2" r="11.50" fill="#FCC840"/>
<circle cx="446.3" cy="396.7" r="11.50" fill="#FDD455"/>
<circle cx="361.9" cy="428.4" r="11.50" fill="#FEDE72"/>
<circle cx="355.3" cy="462.4" r="11.50" fill="#7EEBC0"/>
<circle cx="344.0" cy="474.1" r="11.50" fill="#FEDE72"/>
<circle cx="381.3" cy="467.5" r="11.50" fill="#FEE288"/>
<circle cx="348.7" cy="513.0" r="11.50" fill="#FEDE72"/>
<circle cx="441.7" cy="434.1" r="11.50" fill="#F7AB2E"/>
<circle cx="430.3" cy="458.5" r="11.50" fill="#FBC53C"/>
<circle cx="448.2" cy="468.8" r="11.50" fill="#FEE48C"/>
<circle cx="465.4" cy="274.6" r="11.50" fill="#E8701F"/>
<circle cx="447.8" cy="276.4" r="11.50" fill="#EB7A22"/>
<circle cx="469.5" cy="299.5" r="11.50" fill="#F2972B"/>
<circle cx="495.5" cy="278.5" r="11.50" fill="#F9B632"/>
<circle cx="521.2" cy="282.7" r="11.50" fill="#FBC23A"/>
<circle cx="517.3" cy="302.1" r="11.50" fill="#EB7F24"/>
<circle cx="543.7" cy="306.8" r="11.50" fill="#EA7820"/>
<circle cx="560.5" cy="317.2" r="11.50" fill="#EE8826"/>
<circle cx="526.6" cy="323.8" r="11.50" fill="#F9B632"/>
<circle cx="487.9" cy="328.4" r="11.50" fill="#F2972B"/>
<circle cx="510.2" cy="326.2" r="11.50" fill="#F9B030"/>
<circle cx="507.9" cy="337.1" r="11.50" fill="#F0902A"/>
<circle cx="494.4" cy="349.6" r="11.50" fill="#F7AB2E"/>
<circle cx="480.9" cy="382.2" r="11.50" fill="#FBC23A"/>
<circle cx="511.0" cy="382.7" r="11.50" fill="#FBC53C"/>
<circle cx="480.4" cy="418.0" r="11.50" fill="#F9B632"/>
<circle cx="508.7" cy="415.0" r="11.50" fill="#FCC840"/>
<circle cx="604.0" cy="274.4" r="11.50" fill="#E36A1D"/>
<circle cx="591.4" cy="276.6" r="11.50" fill="#EC7C22"/>
<circle cx="574.5" cy="279.2" r="11.50" fill="#EE8424"/>
<circle cx="632.4" cy="279.6" r="11.50" fill="#EE8826"/>
<circle cx="663.2" cy="284.2" r="11.50" fill="#E36A1D"/>
<circle cx="653.6" cy="287.2" r="11.50" fill="#EB7A22"/>
<circle cx="644.3" cy="290.0" r="11.50" fill="#8E1C00"/>
<circle cx="660.4" cy="299.0" r="11.50" fill="#D45215"/>
<circle cx="647.3" cy="302.0" r="11.50" fill="#F5A52D"/>
<circle cx="646.0" cy="298.4" r="11.50" fill="#F5A52D"/>
<circle cx="636.9" cy="303.0" r="11.50" fill="#F9B632"/>
<circle cx="606.6" cy="304.0" r="11.50" fill="#EE8826"/>
<circle cx="611.0" cy="309.3" r="11.50" fill="#FBC23A"/>
<circle cx="621.6" cy="315.9" r="11.50" fill="#F7AD2E"/>
<circle cx="599.0" cy="335.6" r="11.50" fill="#F5A52D"/>
<circle cx="592.7" cy="319.0" r="11.50" fill="#FBC23A"/>
<circle cx="615.0" cy="324.6" r="11.50" fill="#FBBF38"/>
<circle cx="588.4" cy="341.0" r="11.50" fill="#FBC035"/>
<circle cx="589.1" cy="361.7" r="11.50" fill="#F0952A"/>
<circle cx="601.1" cy="373.3" r="11.50" fill="#EE8826"/>
<circle cx="572.8" cy="381.3" r="11.50" fill="#FDD455"/>
<circle cx="555.2" cy="382.0" r="11.50" fill="#F7AB2E"/>
<circle cx="562.2" cy="382.2" r="11.50" fill="#F7AD2E"/>
<circle cx="575.9" cy="386.4" r="11.50" fill="#FDD455"/>
<circle cx="549.6" cy="392.7" r="11.50" fill="#FBC53C"/>
<circle cx="530.9" cy="401.0" r="11.50" fill="#FBC53C"/>
<circle cx="545.2" cy="409.4" r="11.50" fill="#E8721F"/>
<circle cx="536.1" cy="419.5" r="11.50" fill="#F9B832"/>
<circle cx="561.4" cy="425.5" r="11.50" fill="#DB5A18"/>
<circle cx="537.8" cy="462.3" r="11.50" fill="#FDD04A"/>
<circle cx="545.9" cy="474.3" r="11.50" fill="#FEE288"/>
<circle cx="542.7" cy="485.2" r="11.50" fill="#FEE288"/>
<circle cx="528.7" cy="489.0" r="11.50" fill="#EEE88A"/>
<circle cx="553.2" cy="488.3" r="11.50" fill="#FDCD45"/>
<circle cx="539.9" cy="491.1" r="11.50" fill="#FEE288"/>
<circle cx="532.9" cy="501.6" r="11.50" fill="#3FD0C8"/>
<circle cx="537.1" cy="511.4" r="11.50" fill="#2DAFC8"/>
<circle cx="554.6" cy="517.7" r="11.50" fill="#FDD455"/>
</g></g>
</svg>
<div class="ctl" role="button" aria-label="Search" style="left:29px;top:104px;width:41px;height:41px"></div>
<div class="ctl" role="toolbar" aria-label="Map controls" style="left:29px;top:165px;width:40px;height:150px"></div>
<svg style="position:absolute;left:0;top:0" width="120" height="330" viewBox="0 0 120 330">
<g fill="none" stroke="#8a8a8a" stroke-width="1.6" stroke-linecap="round">
<circle cx="50.8" cy="122.6" r="6.6"/><path d="M46 127.6 L41 132.4" stroke-width="2"/>
</g>
<g fill="none" stroke="#707070" stroke-width="2.6"><path d="M41.5 186.7 H56.5 M49 179.2 V194.2"/><path d="M41.5 218.7 H56.5"/></g>
<g fill="none" stroke="#808080" stroke-width="1.5" stroke-linejoin="miter"><path d="M38.6 250.6 L48.9 241 L59.4 250.6"/><path d="M40.8 249.5 V260.4 H57.2 V249.5"/><path d="M46.4 260.4 V252.6 H51.4 V260.4"/></g>
<path d="M35 271.7 H64.5" stroke="#d4d4d4" stroke-width="1" fill="none"/>
<path d="M45 285.8 L54 293 L45 300.2 Z" fill="#777"/>
</svg>
<div class="attr"><span>© 2026 Mapbox  © OpenStreetMap</span></div>
</body></html>
